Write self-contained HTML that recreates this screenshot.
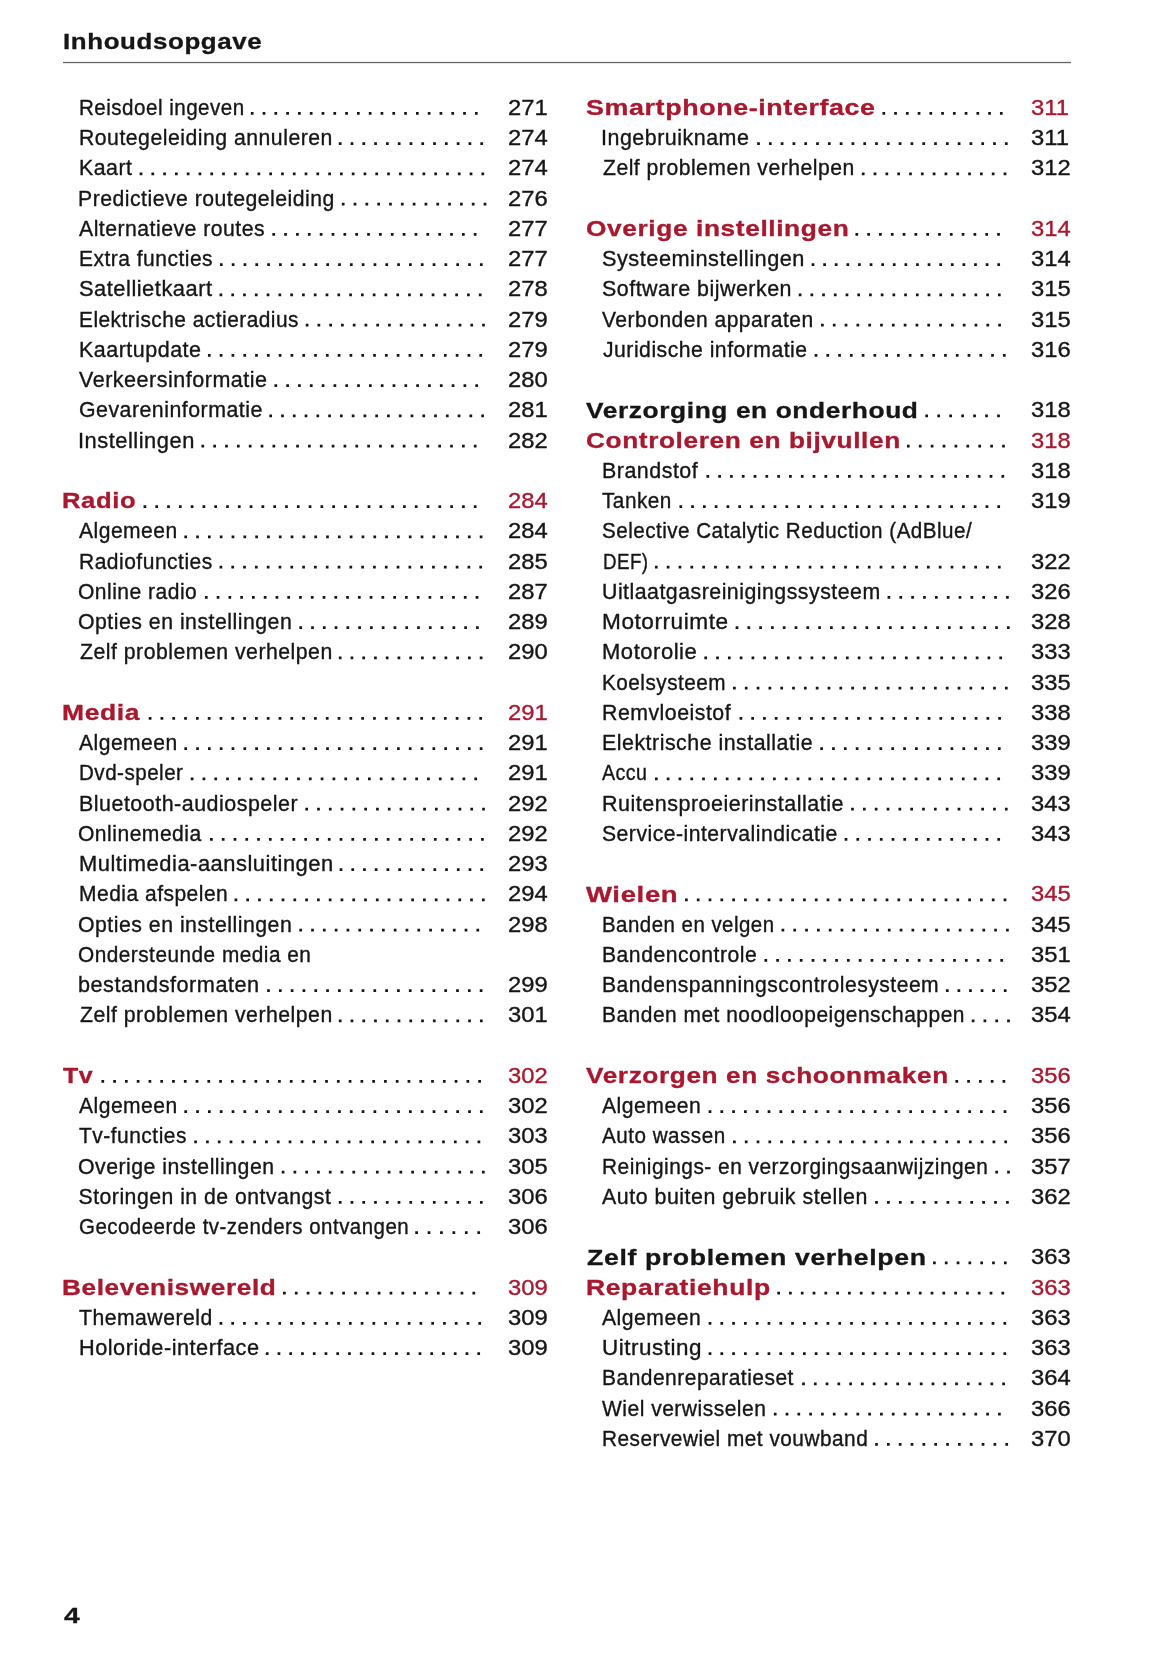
<!DOCTYPE html>
<html><head><meta charset="utf-8"><title>Inhoudsopgave</title>
<style>
html,body{margin:0;padding:0;background:#fff;}
body{width:1165px;height:1653px;position:relative;overflow:hidden;font-family:"Liberation Sans",sans-serif;color:#161616;}
.t{position:absolute;white-space:nowrap;line-height:0;transform-origin:0 0;-webkit-text-stroke:0.35px currentColor;}
.t.bd{-webkit-text-stroke:0.3px currentColor;}
.rule{position:absolute;left:63px;top:62px;width:1008px;height:1px;background:#666;box-shadow:0 -1px 0 #ececec,0 1px 0 #e4e4e4;}
#w{position:absolute;left:0;top:0;width:1165px;height:1653px;mix-blend-mode:multiply;}
</style></head><body><div id="w">
<div class="rule"></div>
<svg width="1165" height="1653" style="position:absolute;left:0;top:0"><path fill="#161616" d="M250.85 112.05h2.7v2.7h-2.7zM262.64 112.05h2.7v2.7h-2.7zM274.44 112.05h2.7v2.7h-2.7zM286.23 112.05h2.7v2.7h-2.7zM298.03 112.05h2.7v2.7h-2.7zM309.82 112.05h2.7v2.7h-2.7zM321.62 112.05h2.7v2.7h-2.7zM333.41 112.05h2.7v2.7h-2.7zM345.21 112.05h2.7v2.7h-2.7zM357.00 112.05h2.7v2.7h-2.7zM368.80 112.05h2.7v2.7h-2.7zM380.59 112.05h2.7v2.7h-2.7zM392.39 112.05h2.7v2.7h-2.7zM404.18 112.05h2.7v2.7h-2.7zM415.98 112.05h2.7v2.7h-2.7zM427.77 112.05h2.7v2.7h-2.7zM439.57 112.05h2.7v2.7h-2.7zM451.36 112.05h2.7v2.7h-2.7zM463.16 112.05h2.7v2.7h-2.7zM474.95 112.05h2.7v2.7h-2.7zM338.85 142.30h2.7v2.7h-2.7zM350.64 142.30h2.7v2.7h-2.7zM362.43 142.30h2.7v2.7h-2.7zM374.22 142.30h2.7v2.7h-2.7zM386.02 142.30h2.7v2.7h-2.7zM397.81 142.30h2.7v2.7h-2.7zM409.60 142.30h2.7v2.7h-2.7zM421.39 142.30h2.7v2.7h-2.7zM433.18 142.30h2.7v2.7h-2.7zM444.97 142.30h2.7v2.7h-2.7zM456.77 142.30h2.7v2.7h-2.7zM468.56 142.30h2.7v2.7h-2.7zM480.35 142.30h2.7v2.7h-2.7zM139.65 172.55h2.7v2.7h-2.7zM151.44 172.55h2.7v2.7h-2.7zM163.22 172.55h2.7v2.7h-2.7zM175.01 172.55h2.7v2.7h-2.7zM186.79 172.55h2.7v2.7h-2.7zM198.58 172.55h2.7v2.7h-2.7zM210.37 172.55h2.7v2.7h-2.7zM222.15 172.55h2.7v2.7h-2.7zM233.94 172.55h2.7v2.7h-2.7zM245.73 172.55h2.7v2.7h-2.7zM257.51 172.55h2.7v2.7h-2.7zM269.30 172.55h2.7v2.7h-2.7zM281.08 172.55h2.7v2.7h-2.7zM292.87 172.55h2.7v2.7h-2.7zM304.66 172.55h2.7v2.7h-2.7zM316.44 172.55h2.7v2.7h-2.7zM328.23 172.55h2.7v2.7h-2.7zM340.02 172.55h2.7v2.7h-2.7zM351.80 172.55h2.7v2.7h-2.7zM363.59 172.55h2.7v2.7h-2.7zM375.37 172.55h2.7v2.7h-2.7zM387.16 172.55h2.7v2.7h-2.7zM398.95 172.55h2.7v2.7h-2.7zM410.73 172.55h2.7v2.7h-2.7zM422.52 172.55h2.7v2.7h-2.7zM434.31 172.55h2.7v2.7h-2.7zM446.09 172.55h2.7v2.7h-2.7zM457.88 172.55h2.7v2.7h-2.7zM469.66 172.55h2.7v2.7h-2.7zM481.45 172.55h2.7v2.7h-2.7zM341.85 202.80h2.7v2.7h-2.7zM353.67 202.80h2.7v2.7h-2.7zM365.48 202.80h2.7v2.7h-2.7zM377.30 202.80h2.7v2.7h-2.7zM389.12 202.80h2.7v2.7h-2.7zM400.93 202.80h2.7v2.7h-2.7zM412.75 202.80h2.7v2.7h-2.7zM424.57 202.80h2.7v2.7h-2.7zM436.38 202.80h2.7v2.7h-2.7zM448.20 202.80h2.7v2.7h-2.7zM460.02 202.80h2.7v2.7h-2.7zM471.83 202.80h2.7v2.7h-2.7zM483.65 202.80h2.7v2.7h-2.7zM272.35 233.05h2.7v2.7h-2.7zM284.20 233.05h2.7v2.7h-2.7zM296.06 233.05h2.7v2.7h-2.7zM307.91 233.05h2.7v2.7h-2.7zM319.76 233.05h2.7v2.7h-2.7zM331.61 233.05h2.7v2.7h-2.7zM343.47 233.05h2.7v2.7h-2.7zM355.32 233.05h2.7v2.7h-2.7zM367.17 233.05h2.7v2.7h-2.7zM379.03 233.05h2.7v2.7h-2.7zM390.88 233.05h2.7v2.7h-2.7zM402.73 233.05h2.7v2.7h-2.7zM414.59 233.05h2.7v2.7h-2.7zM426.44 233.05h2.7v2.7h-2.7zM438.29 233.05h2.7v2.7h-2.7zM450.14 233.05h2.7v2.7h-2.7zM462.00 233.05h2.7v2.7h-2.7zM473.85 233.05h2.7v2.7h-2.7zM219.95 263.30h2.7v2.7h-2.7zM231.77 263.30h2.7v2.7h-2.7zM243.59 263.30h2.7v2.7h-2.7zM255.40 263.30h2.7v2.7h-2.7zM267.22 263.30h2.7v2.7h-2.7zM279.04 263.30h2.7v2.7h-2.7zM290.86 263.30h2.7v2.7h-2.7zM302.68 263.30h2.7v2.7h-2.7zM314.50 263.30h2.7v2.7h-2.7zM326.31 263.30h2.7v2.7h-2.7zM338.13 263.30h2.7v2.7h-2.7zM349.95 263.30h2.7v2.7h-2.7zM361.77 263.30h2.7v2.7h-2.7zM373.59 263.30h2.7v2.7h-2.7zM385.40 263.30h2.7v2.7h-2.7zM397.22 263.30h2.7v2.7h-2.7zM409.04 263.30h2.7v2.7h-2.7zM420.86 263.30h2.7v2.7h-2.7zM432.68 263.30h2.7v2.7h-2.7zM444.50 263.30h2.7v2.7h-2.7zM456.31 263.30h2.7v2.7h-2.7zM468.13 263.30h2.7v2.7h-2.7zM479.95 263.30h2.7v2.7h-2.7zM219.55 293.55h2.7v2.7h-2.7zM231.34 293.55h2.7v2.7h-2.7zM243.12 293.55h2.7v2.7h-2.7zM254.91 293.55h2.7v2.7h-2.7zM266.70 293.55h2.7v2.7h-2.7zM278.48 293.55h2.7v2.7h-2.7zM290.27 293.55h2.7v2.7h-2.7zM302.05 293.55h2.7v2.7h-2.7zM313.84 293.55h2.7v2.7h-2.7zM325.63 293.55h2.7v2.7h-2.7zM337.41 293.55h2.7v2.7h-2.7zM349.20 293.55h2.7v2.7h-2.7zM360.99 293.55h2.7v2.7h-2.7zM372.77 293.55h2.7v2.7h-2.7zM384.56 293.55h2.7v2.7h-2.7zM396.35 293.55h2.7v2.7h-2.7zM408.13 293.55h2.7v2.7h-2.7zM419.92 293.55h2.7v2.7h-2.7zM431.70 293.55h2.7v2.7h-2.7zM443.49 293.55h2.7v2.7h-2.7zM455.28 293.55h2.7v2.7h-2.7zM467.06 293.55h2.7v2.7h-2.7zM478.85 293.55h2.7v2.7h-2.7zM305.75 323.80h2.7v2.7h-2.7zM317.51 323.80h2.7v2.7h-2.7zM329.27 323.80h2.7v2.7h-2.7zM341.03 323.80h2.7v2.7h-2.7zM352.79 323.80h2.7v2.7h-2.7zM364.55 323.80h2.7v2.7h-2.7zM376.31 323.80h2.7v2.7h-2.7zM388.07 323.80h2.7v2.7h-2.7zM399.83 323.80h2.7v2.7h-2.7zM411.59 323.80h2.7v2.7h-2.7zM423.35 323.80h2.7v2.7h-2.7zM435.11 323.80h2.7v2.7h-2.7zM446.87 323.80h2.7v2.7h-2.7zM458.63 323.80h2.7v2.7h-2.7zM470.39 323.80h2.7v2.7h-2.7zM482.15 323.80h2.7v2.7h-2.7zM207.95 354.05h2.7v2.7h-2.7zM219.75 354.05h2.7v2.7h-2.7zM231.55 354.05h2.7v2.7h-2.7zM243.35 354.05h2.7v2.7h-2.7zM255.15 354.05h2.7v2.7h-2.7zM266.95 354.05h2.7v2.7h-2.7zM278.75 354.05h2.7v2.7h-2.7zM290.55 354.05h2.7v2.7h-2.7zM302.35 354.05h2.7v2.7h-2.7zM314.15 354.05h2.7v2.7h-2.7zM325.95 354.05h2.7v2.7h-2.7zM337.75 354.05h2.7v2.7h-2.7zM349.55 354.05h2.7v2.7h-2.7zM361.35 354.05h2.7v2.7h-2.7zM373.15 354.05h2.7v2.7h-2.7zM384.95 354.05h2.7v2.7h-2.7zM396.75 354.05h2.7v2.7h-2.7zM408.55 354.05h2.7v2.7h-2.7zM420.35 354.05h2.7v2.7h-2.7zM432.15 354.05h2.7v2.7h-2.7zM443.95 354.05h2.7v2.7h-2.7zM455.75 354.05h2.7v2.7h-2.7zM467.55 354.05h2.7v2.7h-2.7zM479.35 354.05h2.7v2.7h-2.7zM274.45 384.30h2.7v2.7h-2.7zM286.27 384.30h2.7v2.7h-2.7zM298.09 384.30h2.7v2.7h-2.7zM309.90 384.30h2.7v2.7h-2.7zM321.72 384.30h2.7v2.7h-2.7zM333.54 384.30h2.7v2.7h-2.7zM345.36 384.30h2.7v2.7h-2.7zM357.17 384.30h2.7v2.7h-2.7zM368.99 384.30h2.7v2.7h-2.7zM380.81 384.30h2.7v2.7h-2.7zM392.63 384.30h2.7v2.7h-2.7zM404.44 384.30h2.7v2.7h-2.7zM416.26 384.30h2.7v2.7h-2.7zM428.08 384.30h2.7v2.7h-2.7zM439.90 384.30h2.7v2.7h-2.7zM451.71 384.30h2.7v2.7h-2.7zM463.53 384.30h2.7v2.7h-2.7zM475.35 384.30h2.7v2.7h-2.7zM269.35 414.55h2.7v2.7h-2.7zM281.12 414.55h2.7v2.7h-2.7zM292.89 414.55h2.7v2.7h-2.7zM304.67 414.55h2.7v2.7h-2.7zM316.44 414.55h2.7v2.7h-2.7zM328.21 414.55h2.7v2.7h-2.7zM339.98 414.55h2.7v2.7h-2.7zM351.76 414.55h2.7v2.7h-2.7zM363.53 414.55h2.7v2.7h-2.7zM375.30 414.55h2.7v2.7h-2.7zM387.07 414.55h2.7v2.7h-2.7zM398.84 414.55h2.7v2.7h-2.7zM410.62 414.55h2.7v2.7h-2.7zM422.39 414.55h2.7v2.7h-2.7zM434.16 414.55h2.7v2.7h-2.7zM445.93 414.55h2.7v2.7h-2.7zM457.71 414.55h2.7v2.7h-2.7zM469.48 414.55h2.7v2.7h-2.7zM481.25 414.55h2.7v2.7h-2.7zM201.45 444.80h2.7v2.7h-2.7zM213.29 444.80h2.7v2.7h-2.7zM225.14 444.80h2.7v2.7h-2.7zM236.98 444.80h2.7v2.7h-2.7zM248.82 444.80h2.7v2.7h-2.7zM260.67 444.80h2.7v2.7h-2.7zM272.51 444.80h2.7v2.7h-2.7zM284.35 444.80h2.7v2.7h-2.7zM296.20 444.80h2.7v2.7h-2.7zM308.04 444.80h2.7v2.7h-2.7zM319.88 444.80h2.7v2.7h-2.7zM331.73 444.80h2.7v2.7h-2.7zM343.57 444.80h2.7v2.7h-2.7zM355.42 444.80h2.7v2.7h-2.7zM367.26 444.80h2.7v2.7h-2.7zM379.10 444.80h2.7v2.7h-2.7zM390.95 444.80h2.7v2.7h-2.7zM402.79 444.80h2.7v2.7h-2.7zM414.63 444.80h2.7v2.7h-2.7zM426.48 444.80h2.7v2.7h-2.7zM438.32 444.80h2.7v2.7h-2.7zM450.16 444.80h2.7v2.7h-2.7zM462.01 444.80h2.7v2.7h-2.7zM473.85 444.80h2.7v2.7h-2.7zM143.55 505.30h2.7v2.7h-2.7zM155.35 505.30h2.7v2.7h-2.7zM167.14 505.30h2.7v2.7h-2.7zM178.94 505.30h2.7v2.7h-2.7zM190.74 505.30h2.7v2.7h-2.7zM202.53 505.30h2.7v2.7h-2.7zM214.33 505.30h2.7v2.7h-2.7zM226.12 505.30h2.7v2.7h-2.7zM237.92 505.30h2.7v2.7h-2.7zM249.72 505.30h2.7v2.7h-2.7zM261.51 505.30h2.7v2.7h-2.7zM273.31 505.30h2.7v2.7h-2.7zM285.11 505.30h2.7v2.7h-2.7zM296.90 505.30h2.7v2.7h-2.7zM308.70 505.30h2.7v2.7h-2.7zM320.50 505.30h2.7v2.7h-2.7zM332.29 505.30h2.7v2.7h-2.7zM344.09 505.30h2.7v2.7h-2.7zM355.89 505.30h2.7v2.7h-2.7zM367.68 505.30h2.7v2.7h-2.7zM379.48 505.30h2.7v2.7h-2.7zM391.27 505.30h2.7v2.7h-2.7zM403.07 505.30h2.7v2.7h-2.7zM414.87 505.30h2.7v2.7h-2.7zM426.66 505.30h2.7v2.7h-2.7zM438.46 505.30h2.7v2.7h-2.7zM450.26 505.30h2.7v2.7h-2.7zM462.05 505.30h2.7v2.7h-2.7zM473.85 505.30h2.7v2.7h-2.7zM184.35 535.55h2.7v2.7h-2.7zM196.17 535.55h2.7v2.7h-2.7zM207.98 535.55h2.7v2.7h-2.7zM219.80 535.55h2.7v2.7h-2.7zM231.61 535.55h2.7v2.7h-2.7zM243.43 535.55h2.7v2.7h-2.7zM255.25 535.55h2.7v2.7h-2.7zM267.06 535.55h2.7v2.7h-2.7zM278.88 535.55h2.7v2.7h-2.7zM290.69 535.55h2.7v2.7h-2.7zM302.51 535.55h2.7v2.7h-2.7zM314.33 535.55h2.7v2.7h-2.7zM326.14 535.55h2.7v2.7h-2.7zM337.96 535.55h2.7v2.7h-2.7zM349.77 535.55h2.7v2.7h-2.7zM361.59 535.55h2.7v2.7h-2.7zM373.41 535.55h2.7v2.7h-2.7zM385.22 535.55h2.7v2.7h-2.7zM397.04 535.55h2.7v2.7h-2.7zM408.85 535.55h2.7v2.7h-2.7zM420.67 535.55h2.7v2.7h-2.7zM432.49 535.55h2.7v2.7h-2.7zM444.30 535.55h2.7v2.7h-2.7zM456.12 535.55h2.7v2.7h-2.7zM467.93 535.55h2.7v2.7h-2.7zM479.75 535.55h2.7v2.7h-2.7zM219.55 565.80h2.7v2.7h-2.7zM231.36 565.80h2.7v2.7h-2.7zM243.17 565.80h2.7v2.7h-2.7zM254.98 565.80h2.7v2.7h-2.7zM266.79 565.80h2.7v2.7h-2.7zM278.60 565.80h2.7v2.7h-2.7zM290.40 565.80h2.7v2.7h-2.7zM302.21 565.80h2.7v2.7h-2.7zM314.02 565.80h2.7v2.7h-2.7zM325.83 565.80h2.7v2.7h-2.7zM337.64 565.80h2.7v2.7h-2.7zM349.45 565.80h2.7v2.7h-2.7zM361.26 565.80h2.7v2.7h-2.7zM373.07 565.80h2.7v2.7h-2.7zM384.88 565.80h2.7v2.7h-2.7zM396.69 565.80h2.7v2.7h-2.7zM408.50 565.80h2.7v2.7h-2.7zM420.30 565.80h2.7v2.7h-2.7zM432.11 565.80h2.7v2.7h-2.7zM443.92 565.80h2.7v2.7h-2.7zM455.73 565.80h2.7v2.7h-2.7zM467.54 565.80h2.7v2.7h-2.7zM479.35 565.80h2.7v2.7h-2.7zM204.95 596.05h2.7v2.7h-2.7zM216.72 596.05h2.7v2.7h-2.7zM228.49 596.05h2.7v2.7h-2.7zM240.26 596.05h2.7v2.7h-2.7zM252.03 596.05h2.7v2.7h-2.7zM263.80 596.05h2.7v2.7h-2.7zM275.57 596.05h2.7v2.7h-2.7zM287.34 596.05h2.7v2.7h-2.7zM299.11 596.05h2.7v2.7h-2.7zM310.88 596.05h2.7v2.7h-2.7zM322.65 596.05h2.7v2.7h-2.7zM334.42 596.05h2.7v2.7h-2.7zM346.18 596.05h2.7v2.7h-2.7zM357.95 596.05h2.7v2.7h-2.7zM369.72 596.05h2.7v2.7h-2.7zM381.49 596.05h2.7v2.7h-2.7zM393.26 596.05h2.7v2.7h-2.7zM405.03 596.05h2.7v2.7h-2.7zM416.80 596.05h2.7v2.7h-2.7zM428.57 596.05h2.7v2.7h-2.7zM440.34 596.05h2.7v2.7h-2.7zM452.11 596.05h2.7v2.7h-2.7zM463.88 596.05h2.7v2.7h-2.7zM475.65 596.05h2.7v2.7h-2.7zM299.35 626.30h2.7v2.7h-2.7zM311.13 626.30h2.7v2.7h-2.7zM322.91 626.30h2.7v2.7h-2.7zM334.69 626.30h2.7v2.7h-2.7zM346.47 626.30h2.7v2.7h-2.7zM358.25 626.30h2.7v2.7h-2.7zM370.03 626.30h2.7v2.7h-2.7zM381.81 626.30h2.7v2.7h-2.7zM393.59 626.30h2.7v2.7h-2.7zM405.37 626.30h2.7v2.7h-2.7zM417.15 626.30h2.7v2.7h-2.7zM428.93 626.30h2.7v2.7h-2.7zM440.71 626.30h2.7v2.7h-2.7zM452.49 626.30h2.7v2.7h-2.7zM464.27 626.30h2.7v2.7h-2.7zM476.05 626.30h2.7v2.7h-2.7zM338.85 656.55h2.7v2.7h-2.7zM350.59 656.55h2.7v2.7h-2.7zM362.33 656.55h2.7v2.7h-2.7zM374.07 656.55h2.7v2.7h-2.7zM385.82 656.55h2.7v2.7h-2.7zM397.56 656.55h2.7v2.7h-2.7zM409.30 656.55h2.7v2.7h-2.7zM421.04 656.55h2.7v2.7h-2.7zM432.78 656.55h2.7v2.7h-2.7zM444.52 656.55h2.7v2.7h-2.7zM456.27 656.55h2.7v2.7h-2.7zM468.01 656.55h2.7v2.7h-2.7zM479.75 656.55h2.7v2.7h-2.7zM148.75 717.05h2.7v2.7h-2.7zM160.56 717.05h2.7v2.7h-2.7zM172.36 717.05h2.7v2.7h-2.7zM184.17 717.05h2.7v2.7h-2.7zM195.98 717.05h2.7v2.7h-2.7zM207.79 717.05h2.7v2.7h-2.7zM219.59 717.05h2.7v2.7h-2.7zM231.40 717.05h2.7v2.7h-2.7zM243.21 717.05h2.7v2.7h-2.7zM255.01 717.05h2.7v2.7h-2.7zM266.82 717.05h2.7v2.7h-2.7zM278.63 717.05h2.7v2.7h-2.7zM290.44 717.05h2.7v2.7h-2.7zM302.24 717.05h2.7v2.7h-2.7zM314.05 717.05h2.7v2.7h-2.7zM325.86 717.05h2.7v2.7h-2.7zM337.66 717.05h2.7v2.7h-2.7zM349.47 717.05h2.7v2.7h-2.7zM361.28 717.05h2.7v2.7h-2.7zM373.09 717.05h2.7v2.7h-2.7zM384.89 717.05h2.7v2.7h-2.7zM396.70 717.05h2.7v2.7h-2.7zM408.51 717.05h2.7v2.7h-2.7zM420.31 717.05h2.7v2.7h-2.7zM432.12 717.05h2.7v2.7h-2.7zM443.93 717.05h2.7v2.7h-2.7zM455.74 717.05h2.7v2.7h-2.7zM467.54 717.05h2.7v2.7h-2.7zM479.35 717.05h2.7v2.7h-2.7zM184.35 747.30h2.7v2.7h-2.7zM196.17 747.30h2.7v2.7h-2.7zM207.98 747.30h2.7v2.7h-2.7zM219.80 747.30h2.7v2.7h-2.7zM231.61 747.30h2.7v2.7h-2.7zM243.43 747.30h2.7v2.7h-2.7zM255.25 747.30h2.7v2.7h-2.7zM267.06 747.30h2.7v2.7h-2.7zM278.88 747.30h2.7v2.7h-2.7zM290.69 747.30h2.7v2.7h-2.7zM302.51 747.30h2.7v2.7h-2.7zM314.33 747.30h2.7v2.7h-2.7zM326.14 747.30h2.7v2.7h-2.7zM337.96 747.30h2.7v2.7h-2.7zM349.77 747.30h2.7v2.7h-2.7zM361.59 747.30h2.7v2.7h-2.7zM373.41 747.30h2.7v2.7h-2.7zM385.22 747.30h2.7v2.7h-2.7zM397.04 747.30h2.7v2.7h-2.7zM408.85 747.30h2.7v2.7h-2.7zM420.67 747.30h2.7v2.7h-2.7zM432.49 747.30h2.7v2.7h-2.7zM444.30 747.30h2.7v2.7h-2.7zM456.12 747.30h2.7v2.7h-2.7zM467.93 747.30h2.7v2.7h-2.7zM479.75 747.30h2.7v2.7h-2.7zM190.75 777.55h2.7v2.7h-2.7zM202.57 777.55h2.7v2.7h-2.7zM214.38 777.55h2.7v2.7h-2.7zM226.20 777.55h2.7v2.7h-2.7zM238.02 777.55h2.7v2.7h-2.7zM249.83 777.55h2.7v2.7h-2.7zM261.65 777.55h2.7v2.7h-2.7zM273.47 777.55h2.7v2.7h-2.7zM285.28 777.55h2.7v2.7h-2.7zM297.10 777.55h2.7v2.7h-2.7zM308.92 777.55h2.7v2.7h-2.7zM320.73 777.55h2.7v2.7h-2.7zM332.55 777.55h2.7v2.7h-2.7zM344.37 777.55h2.7v2.7h-2.7zM356.18 777.55h2.7v2.7h-2.7zM368.00 777.55h2.7v2.7h-2.7zM379.82 777.55h2.7v2.7h-2.7zM391.63 777.55h2.7v2.7h-2.7zM403.45 777.55h2.7v2.7h-2.7zM415.27 777.55h2.7v2.7h-2.7zM427.08 777.55h2.7v2.7h-2.7zM438.90 777.55h2.7v2.7h-2.7zM450.72 777.55h2.7v2.7h-2.7zM462.53 777.55h2.7v2.7h-2.7zM474.35 777.55h2.7v2.7h-2.7zM305.35 807.80h2.7v2.7h-2.7zM317.14 807.80h2.7v2.7h-2.7zM328.92 807.80h2.7v2.7h-2.7zM340.71 807.80h2.7v2.7h-2.7zM352.50 807.80h2.7v2.7h-2.7zM364.28 807.80h2.7v2.7h-2.7zM376.07 807.80h2.7v2.7h-2.7zM387.86 807.80h2.7v2.7h-2.7zM399.64 807.80h2.7v2.7h-2.7zM411.43 807.80h2.7v2.7h-2.7zM423.22 807.80h2.7v2.7h-2.7zM435.00 807.80h2.7v2.7h-2.7zM446.79 807.80h2.7v2.7h-2.7zM458.58 807.80h2.7v2.7h-2.7zM470.36 807.80h2.7v2.7h-2.7zM482.15 807.80h2.7v2.7h-2.7zM210.05 838.05h2.7v2.7h-2.7zM221.83 838.05h2.7v2.7h-2.7zM233.62 838.05h2.7v2.7h-2.7zM245.40 838.05h2.7v2.7h-2.7zM257.18 838.05h2.7v2.7h-2.7zM268.96 838.05h2.7v2.7h-2.7zM280.75 838.05h2.7v2.7h-2.7zM292.53 838.05h2.7v2.7h-2.7zM304.31 838.05h2.7v2.7h-2.7zM316.09 838.05h2.7v2.7h-2.7zM327.88 838.05h2.7v2.7h-2.7zM339.66 838.05h2.7v2.7h-2.7zM351.44 838.05h2.7v2.7h-2.7zM363.22 838.05h2.7v2.7h-2.7zM375.01 838.05h2.7v2.7h-2.7zM386.79 838.05h2.7v2.7h-2.7zM398.57 838.05h2.7v2.7h-2.7zM410.35 838.05h2.7v2.7h-2.7zM422.14 838.05h2.7v2.7h-2.7zM433.92 838.05h2.7v2.7h-2.7zM445.70 838.05h2.7v2.7h-2.7zM457.48 838.05h2.7v2.7h-2.7zM469.27 838.05h2.7v2.7h-2.7zM481.05 838.05h2.7v2.7h-2.7zM339.65 868.30h2.7v2.7h-2.7zM351.38 868.30h2.7v2.7h-2.7zM363.10 868.30h2.7v2.7h-2.7zM374.82 868.30h2.7v2.7h-2.7zM386.55 868.30h2.7v2.7h-2.7zM398.27 868.30h2.7v2.7h-2.7zM410.00 868.30h2.7v2.7h-2.7zM421.72 868.30h2.7v2.7h-2.7zM433.45 868.30h2.7v2.7h-2.7zM445.17 868.30h2.7v2.7h-2.7zM456.90 868.30h2.7v2.7h-2.7zM468.62 868.30h2.7v2.7h-2.7zM480.35 868.30h2.7v2.7h-2.7zM234.55 898.55h2.7v2.7h-2.7zM246.33 898.55h2.7v2.7h-2.7zM258.11 898.55h2.7v2.7h-2.7zM269.89 898.55h2.7v2.7h-2.7zM281.67 898.55h2.7v2.7h-2.7zM293.45 898.55h2.7v2.7h-2.7zM305.24 898.55h2.7v2.7h-2.7zM317.02 898.55h2.7v2.7h-2.7zM328.80 898.55h2.7v2.7h-2.7zM340.58 898.55h2.7v2.7h-2.7zM352.36 898.55h2.7v2.7h-2.7zM364.14 898.55h2.7v2.7h-2.7zM375.92 898.55h2.7v2.7h-2.7zM387.70 898.55h2.7v2.7h-2.7zM399.48 898.55h2.7v2.7h-2.7zM411.26 898.55h2.7v2.7h-2.7zM423.05 898.55h2.7v2.7h-2.7zM434.83 898.55h2.7v2.7h-2.7zM446.61 898.55h2.7v2.7h-2.7zM458.39 898.55h2.7v2.7h-2.7zM470.17 898.55h2.7v2.7h-2.7zM481.95 898.55h2.7v2.7h-2.7zM299.35 928.80h2.7v2.7h-2.7zM311.16 928.80h2.7v2.7h-2.7zM322.96 928.80h2.7v2.7h-2.7zM334.77 928.80h2.7v2.7h-2.7zM346.58 928.80h2.7v2.7h-2.7zM358.38 928.80h2.7v2.7h-2.7zM370.19 928.80h2.7v2.7h-2.7zM382.00 928.80h2.7v2.7h-2.7zM393.80 928.80h2.7v2.7h-2.7zM405.61 928.80h2.7v2.7h-2.7zM417.42 928.80h2.7v2.7h-2.7zM429.22 928.80h2.7v2.7h-2.7zM441.03 928.80h2.7v2.7h-2.7zM452.84 928.80h2.7v2.7h-2.7zM464.64 928.80h2.7v2.7h-2.7zM476.45 928.80h2.7v2.7h-2.7zM267.15 989.30h2.7v2.7h-2.7zM278.96 989.30h2.7v2.7h-2.7zM290.77 989.30h2.7v2.7h-2.7zM302.58 989.30h2.7v2.7h-2.7zM314.39 989.30h2.7v2.7h-2.7zM326.21 989.30h2.7v2.7h-2.7zM338.02 989.30h2.7v2.7h-2.7zM349.83 989.30h2.7v2.7h-2.7zM361.64 989.30h2.7v2.7h-2.7zM373.45 989.30h2.7v2.7h-2.7zM385.26 989.30h2.7v2.7h-2.7zM397.07 989.30h2.7v2.7h-2.7zM408.88 989.30h2.7v2.7h-2.7zM420.69 989.30h2.7v2.7h-2.7zM432.51 989.30h2.7v2.7h-2.7zM444.32 989.30h2.7v2.7h-2.7zM456.13 989.30h2.7v2.7h-2.7zM467.94 989.30h2.7v2.7h-2.7zM479.75 989.30h2.7v2.7h-2.7zM338.85 1019.55h2.7v2.7h-2.7zM350.61 1019.55h2.7v2.7h-2.7zM362.37 1019.55h2.7v2.7h-2.7zM374.12 1019.55h2.7v2.7h-2.7zM385.88 1019.55h2.7v2.7h-2.7zM397.64 1019.55h2.7v2.7h-2.7zM409.40 1019.55h2.7v2.7h-2.7zM421.16 1019.55h2.7v2.7h-2.7zM432.92 1019.55h2.7v2.7h-2.7zM444.67 1019.55h2.7v2.7h-2.7zM456.43 1019.55h2.7v2.7h-2.7zM468.19 1019.55h2.7v2.7h-2.7zM479.95 1019.55h2.7v2.7h-2.7zM101.45 1080.05h2.7v2.7h-2.7zM113.23 1080.05h2.7v2.7h-2.7zM125.00 1080.05h2.7v2.7h-2.7zM136.78 1080.05h2.7v2.7h-2.7zM148.55 1080.05h2.7v2.7h-2.7zM160.33 1080.05h2.7v2.7h-2.7zM172.10 1080.05h2.7v2.7h-2.7zM183.88 1080.05h2.7v2.7h-2.7zM195.65 1080.05h2.7v2.7h-2.7zM207.43 1080.05h2.7v2.7h-2.7zM219.20 1080.05h2.7v2.7h-2.7zM230.97 1080.05h2.7v2.7h-2.7zM242.75 1080.05h2.7v2.7h-2.7zM254.53 1080.05h2.7v2.7h-2.7zM266.30 1080.05h2.7v2.7h-2.7zM278.07 1080.05h2.7v2.7h-2.7zM289.85 1080.05h2.7v2.7h-2.7zM301.62 1080.05h2.7v2.7h-2.7zM313.40 1080.05h2.7v2.7h-2.7zM325.17 1080.05h2.7v2.7h-2.7zM336.95 1080.05h2.7v2.7h-2.7zM348.72 1080.05h2.7v2.7h-2.7zM360.50 1080.05h2.7v2.7h-2.7zM372.27 1080.05h2.7v2.7h-2.7zM384.05 1080.05h2.7v2.7h-2.7zM395.82 1080.05h2.7v2.7h-2.7zM407.60 1080.05h2.7v2.7h-2.7zM419.38 1080.05h2.7v2.7h-2.7zM431.15 1080.05h2.7v2.7h-2.7zM442.93 1080.05h2.7v2.7h-2.7zM454.70 1080.05h2.7v2.7h-2.7zM466.48 1080.05h2.7v2.7h-2.7zM478.25 1080.05h2.7v2.7h-2.7zM184.35 1110.30h2.7v2.7h-2.7zM196.17 1110.30h2.7v2.7h-2.7zM208.00 1110.30h2.7v2.7h-2.7zM219.82 1110.30h2.7v2.7h-2.7zM231.65 1110.30h2.7v2.7h-2.7zM243.47 1110.30h2.7v2.7h-2.7zM255.29 1110.30h2.7v2.7h-2.7zM267.12 1110.30h2.7v2.7h-2.7zM278.94 1110.30h2.7v2.7h-2.7zM290.77 1110.30h2.7v2.7h-2.7zM302.59 1110.30h2.7v2.7h-2.7zM314.41 1110.30h2.7v2.7h-2.7zM326.24 1110.30h2.7v2.7h-2.7zM338.06 1110.30h2.7v2.7h-2.7zM349.89 1110.30h2.7v2.7h-2.7zM361.71 1110.30h2.7v2.7h-2.7zM373.53 1110.30h2.7v2.7h-2.7zM385.36 1110.30h2.7v2.7h-2.7zM397.18 1110.30h2.7v2.7h-2.7zM409.01 1110.30h2.7v2.7h-2.7zM420.83 1110.30h2.7v2.7h-2.7zM432.65 1110.30h2.7v2.7h-2.7zM444.48 1110.30h2.7v2.7h-2.7zM456.30 1110.30h2.7v2.7h-2.7zM468.13 1110.30h2.7v2.7h-2.7zM479.95 1110.30h2.7v2.7h-2.7zM194.25 1140.55h2.7v2.7h-2.7zM206.05 1140.55h2.7v2.7h-2.7zM217.86 1140.55h2.7v2.7h-2.7zM229.66 1140.55h2.7v2.7h-2.7zM241.47 1140.55h2.7v2.7h-2.7zM253.27 1140.55h2.7v2.7h-2.7zM265.07 1140.55h2.7v2.7h-2.7zM276.88 1140.55h2.7v2.7h-2.7zM288.68 1140.55h2.7v2.7h-2.7zM300.49 1140.55h2.7v2.7h-2.7zM312.29 1140.55h2.7v2.7h-2.7zM324.10 1140.55h2.7v2.7h-2.7zM335.90 1140.55h2.7v2.7h-2.7zM347.70 1140.55h2.7v2.7h-2.7zM359.51 1140.55h2.7v2.7h-2.7zM371.31 1140.55h2.7v2.7h-2.7zM383.12 1140.55h2.7v2.7h-2.7zM394.92 1140.55h2.7v2.7h-2.7zM406.72 1140.55h2.7v2.7h-2.7zM418.53 1140.55h2.7v2.7h-2.7zM430.33 1140.55h2.7v2.7h-2.7zM442.14 1140.55h2.7v2.7h-2.7zM453.94 1140.55h2.7v2.7h-2.7zM465.75 1140.55h2.7v2.7h-2.7zM477.55 1140.55h2.7v2.7h-2.7zM281.75 1170.80h2.7v2.7h-2.7zM293.53 1170.80h2.7v2.7h-2.7zM305.30 1170.80h2.7v2.7h-2.7zM317.08 1170.80h2.7v2.7h-2.7zM328.86 1170.80h2.7v2.7h-2.7zM340.63 1170.80h2.7v2.7h-2.7zM352.41 1170.80h2.7v2.7h-2.7zM364.19 1170.80h2.7v2.7h-2.7zM375.96 1170.80h2.7v2.7h-2.7zM387.74 1170.80h2.7v2.7h-2.7zM399.51 1170.80h2.7v2.7h-2.7zM411.29 1170.80h2.7v2.7h-2.7zM423.07 1170.80h2.7v2.7h-2.7zM434.84 1170.80h2.7v2.7h-2.7zM446.62 1170.80h2.7v2.7h-2.7zM458.40 1170.80h2.7v2.7h-2.7zM470.17 1170.80h2.7v2.7h-2.7zM481.95 1170.80h2.7v2.7h-2.7zM338.85 1201.05h2.7v2.7h-2.7zM350.61 1201.05h2.7v2.7h-2.7zM362.37 1201.05h2.7v2.7h-2.7zM374.12 1201.05h2.7v2.7h-2.7zM385.88 1201.05h2.7v2.7h-2.7zM397.64 1201.05h2.7v2.7h-2.7zM409.40 1201.05h2.7v2.7h-2.7zM421.16 1201.05h2.7v2.7h-2.7zM432.92 1201.05h2.7v2.7h-2.7zM444.67 1201.05h2.7v2.7h-2.7zM456.43 1201.05h2.7v2.7h-2.7zM468.19 1201.05h2.7v2.7h-2.7zM479.95 1201.05h2.7v2.7h-2.7zM415.25 1231.30h2.7v2.7h-2.7zM427.67 1231.30h2.7v2.7h-2.7zM440.09 1231.30h2.7v2.7h-2.7zM452.51 1231.30h2.7v2.7h-2.7zM464.93 1231.30h2.7v2.7h-2.7zM477.35 1231.30h2.7v2.7h-2.7zM283.05 1291.80h2.7v2.7h-2.7zM294.89 1291.80h2.7v2.7h-2.7zM306.73 1291.80h2.7v2.7h-2.7zM318.56 1291.80h2.7v2.7h-2.7zM330.40 1291.80h2.7v2.7h-2.7zM342.24 1291.80h2.7v2.7h-2.7zM354.07 1291.80h2.7v2.7h-2.7zM365.91 1291.80h2.7v2.7h-2.7zM377.75 1291.80h2.7v2.7h-2.7zM389.59 1291.80h2.7v2.7h-2.7zM401.43 1291.80h2.7v2.7h-2.7zM413.26 1291.80h2.7v2.7h-2.7zM425.10 1291.80h2.7v2.7h-2.7zM436.94 1291.80h2.7v2.7h-2.7zM448.77 1291.80h2.7v2.7h-2.7zM460.61 1291.80h2.7v2.7h-2.7zM472.45 1291.80h2.7v2.7h-2.7zM219.55 1322.05h2.7v2.7h-2.7zM231.31 1322.05h2.7v2.7h-2.7zM243.08 1322.05h2.7v2.7h-2.7zM254.84 1322.05h2.7v2.7h-2.7zM266.60 1322.05h2.7v2.7h-2.7zM278.37 1322.05h2.7v2.7h-2.7zM290.13 1322.05h2.7v2.7h-2.7zM301.90 1322.05h2.7v2.7h-2.7zM313.66 1322.05h2.7v2.7h-2.7zM325.42 1322.05h2.7v2.7h-2.7zM337.19 1322.05h2.7v2.7h-2.7zM348.95 1322.05h2.7v2.7h-2.7zM360.71 1322.05h2.7v2.7h-2.7zM372.48 1322.05h2.7v2.7h-2.7zM384.24 1322.05h2.7v2.7h-2.7zM396.00 1322.05h2.7v2.7h-2.7zM407.77 1322.05h2.7v2.7h-2.7zM419.53 1322.05h2.7v2.7h-2.7zM431.30 1322.05h2.7v2.7h-2.7zM443.06 1322.05h2.7v2.7h-2.7zM454.82 1322.05h2.7v2.7h-2.7zM466.59 1322.05h2.7v2.7h-2.7zM478.35 1322.05h2.7v2.7h-2.7zM265.85 1352.30h2.7v2.7h-2.7zM277.60 1352.30h2.7v2.7h-2.7zM289.35 1352.30h2.7v2.7h-2.7zM301.10 1352.30h2.7v2.7h-2.7zM312.85 1352.30h2.7v2.7h-2.7zM324.60 1352.30h2.7v2.7h-2.7zM336.35 1352.30h2.7v2.7h-2.7zM348.10 1352.30h2.7v2.7h-2.7zM359.85 1352.30h2.7v2.7h-2.7zM371.60 1352.30h2.7v2.7h-2.7zM383.35 1352.30h2.7v2.7h-2.7zM395.10 1352.30h2.7v2.7h-2.7zM406.85 1352.30h2.7v2.7h-2.7zM418.60 1352.30h2.7v2.7h-2.7zM430.35 1352.30h2.7v2.7h-2.7zM442.10 1352.30h2.7v2.7h-2.7zM453.85 1352.30h2.7v2.7h-2.7zM465.60 1352.30h2.7v2.7h-2.7zM477.35 1352.30h2.7v2.7h-2.7zM882.45 112.05h2.7v2.7h-2.7zM894.20 112.05h2.7v2.7h-2.7zM905.95 112.05h2.7v2.7h-2.7zM917.70 112.05h2.7v2.7h-2.7zM929.45 112.05h2.7v2.7h-2.7zM941.20 112.05h2.7v2.7h-2.7zM952.95 112.05h2.7v2.7h-2.7zM964.70 112.05h2.7v2.7h-2.7zM976.45 112.05h2.7v2.7h-2.7zM988.20 112.05h2.7v2.7h-2.7zM999.95 112.05h2.7v2.7h-2.7zM757.15 142.30h2.7v2.7h-2.7zM768.95 142.30h2.7v2.7h-2.7zM780.75 142.30h2.7v2.7h-2.7zM792.55 142.30h2.7v2.7h-2.7zM804.35 142.30h2.7v2.7h-2.7zM816.15 142.30h2.7v2.7h-2.7zM827.95 142.30h2.7v2.7h-2.7zM839.75 142.30h2.7v2.7h-2.7zM851.55 142.30h2.7v2.7h-2.7zM863.35 142.30h2.7v2.7h-2.7zM875.15 142.30h2.7v2.7h-2.7zM886.95 142.30h2.7v2.7h-2.7zM898.75 142.30h2.7v2.7h-2.7zM910.55 142.30h2.7v2.7h-2.7zM922.35 142.30h2.7v2.7h-2.7zM934.15 142.30h2.7v2.7h-2.7zM945.95 142.30h2.7v2.7h-2.7zM957.75 142.30h2.7v2.7h-2.7zM969.55 142.30h2.7v2.7h-2.7zM981.35 142.30h2.7v2.7h-2.7zM993.15 142.30h2.7v2.7h-2.7zM1004.95 142.30h2.7v2.7h-2.7zM861.85 172.55h2.7v2.7h-2.7zM873.67 172.55h2.7v2.7h-2.7zM885.48 172.55h2.7v2.7h-2.7zM897.30 172.55h2.7v2.7h-2.7zM909.12 172.55h2.7v2.7h-2.7zM920.93 172.55h2.7v2.7h-2.7zM932.75 172.55h2.7v2.7h-2.7zM944.57 172.55h2.7v2.7h-2.7zM956.38 172.55h2.7v2.7h-2.7zM968.20 172.55h2.7v2.7h-2.7zM980.02 172.55h2.7v2.7h-2.7zM991.83 172.55h2.7v2.7h-2.7zM1003.65 172.55h2.7v2.7h-2.7zM855.45 233.05h2.7v2.7h-2.7zM867.26 233.05h2.7v2.7h-2.7zM879.07 233.05h2.7v2.7h-2.7zM890.87 233.05h2.7v2.7h-2.7zM902.68 233.05h2.7v2.7h-2.7zM914.49 233.05h2.7v2.7h-2.7zM926.30 233.05h2.7v2.7h-2.7zM938.11 233.05h2.7v2.7h-2.7zM949.92 233.05h2.7v2.7h-2.7zM961.73 233.05h2.7v2.7h-2.7zM973.53 233.05h2.7v2.7h-2.7zM985.34 233.05h2.7v2.7h-2.7zM997.15 233.05h2.7v2.7h-2.7zM811.65 263.30h2.7v2.7h-2.7zM823.26 263.30h2.7v2.7h-2.7zM834.86 263.30h2.7v2.7h-2.7zM846.47 263.30h2.7v2.7h-2.7zM858.07 263.30h2.7v2.7h-2.7zM869.68 263.30h2.7v2.7h-2.7zM881.29 263.30h2.7v2.7h-2.7zM892.89 263.30h2.7v2.7h-2.7zM904.50 263.30h2.7v2.7h-2.7zM916.11 263.30h2.7v2.7h-2.7zM927.71 263.30h2.7v2.7h-2.7zM939.32 263.30h2.7v2.7h-2.7zM950.93 263.30h2.7v2.7h-2.7zM962.53 263.30h2.7v2.7h-2.7zM974.14 263.30h2.7v2.7h-2.7zM985.74 263.30h2.7v2.7h-2.7zM997.35 263.30h2.7v2.7h-2.7zM798.75 293.55h2.7v2.7h-2.7zM810.47 293.55h2.7v2.7h-2.7zM822.19 293.55h2.7v2.7h-2.7zM833.90 293.55h2.7v2.7h-2.7zM845.62 293.55h2.7v2.7h-2.7zM857.34 293.55h2.7v2.7h-2.7zM869.06 293.55h2.7v2.7h-2.7zM880.77 293.55h2.7v2.7h-2.7zM892.49 293.55h2.7v2.7h-2.7zM904.21 293.55h2.7v2.7h-2.7zM915.93 293.55h2.7v2.7h-2.7zM927.64 293.55h2.7v2.7h-2.7zM939.36 293.55h2.7v2.7h-2.7zM951.08 293.55h2.7v2.7h-2.7zM962.80 293.55h2.7v2.7h-2.7zM974.51 293.55h2.7v2.7h-2.7zM986.23 293.55h2.7v2.7h-2.7zM997.95 293.55h2.7v2.7h-2.7zM821.05 323.80h2.7v2.7h-2.7zM832.86 323.80h2.7v2.7h-2.7zM844.68 323.80h2.7v2.7h-2.7zM856.49 323.80h2.7v2.7h-2.7zM868.30 323.80h2.7v2.7h-2.7zM880.12 323.80h2.7v2.7h-2.7zM891.93 323.80h2.7v2.7h-2.7zM903.74 323.80h2.7v2.7h-2.7zM915.56 323.80h2.7v2.7h-2.7zM927.37 323.80h2.7v2.7h-2.7zM939.18 323.80h2.7v2.7h-2.7zM951.00 323.80h2.7v2.7h-2.7zM962.81 323.80h2.7v2.7h-2.7zM974.62 323.80h2.7v2.7h-2.7zM986.44 323.80h2.7v2.7h-2.7zM998.25 323.80h2.7v2.7h-2.7zM814.65 354.05h2.7v2.7h-2.7zM826.42 354.05h2.7v2.7h-2.7zM838.19 354.05h2.7v2.7h-2.7zM849.96 354.05h2.7v2.7h-2.7zM861.73 354.05h2.7v2.7h-2.7zM873.49 354.05h2.7v2.7h-2.7zM885.26 354.05h2.7v2.7h-2.7zM897.03 354.05h2.7v2.7h-2.7zM908.80 354.05h2.7v2.7h-2.7zM920.57 354.05h2.7v2.7h-2.7zM932.34 354.05h2.7v2.7h-2.7zM944.11 354.05h2.7v2.7h-2.7zM955.87 354.05h2.7v2.7h-2.7zM967.64 354.05h2.7v2.7h-2.7zM979.41 354.05h2.7v2.7h-2.7zM991.18 354.05h2.7v2.7h-2.7zM1002.95 354.05h2.7v2.7h-2.7zM925.35 414.55h2.7v2.7h-2.7zM937.32 414.55h2.7v2.7h-2.7zM949.28 414.55h2.7v2.7h-2.7zM961.25 414.55h2.7v2.7h-2.7zM973.22 414.55h2.7v2.7h-2.7zM985.18 414.55h2.7v2.7h-2.7zM997.15 414.55h2.7v2.7h-2.7zM906.95 444.80h2.7v2.7h-2.7zM918.85 444.80h2.7v2.7h-2.7zM930.75 444.80h2.7v2.7h-2.7zM942.65 444.80h2.7v2.7h-2.7zM954.55 444.80h2.7v2.7h-2.7zM966.45 444.80h2.7v2.7h-2.7zM978.35 444.80h2.7v2.7h-2.7zM990.25 444.80h2.7v2.7h-2.7zM1002.15 444.80h2.7v2.7h-2.7zM706.45 475.05h2.7v2.7h-2.7zM718.25 475.05h2.7v2.7h-2.7zM730.05 475.05h2.7v2.7h-2.7zM741.85 475.05h2.7v2.7h-2.7zM753.65 475.05h2.7v2.7h-2.7zM765.45 475.05h2.7v2.7h-2.7zM777.25 475.05h2.7v2.7h-2.7zM789.05 475.05h2.7v2.7h-2.7zM800.85 475.05h2.7v2.7h-2.7zM812.65 475.05h2.7v2.7h-2.7zM824.45 475.05h2.7v2.7h-2.7zM836.25 475.05h2.7v2.7h-2.7zM848.05 475.05h2.7v2.7h-2.7zM859.85 475.05h2.7v2.7h-2.7zM871.65 475.05h2.7v2.7h-2.7zM883.45 475.05h2.7v2.7h-2.7zM895.25 475.05h2.7v2.7h-2.7zM907.05 475.05h2.7v2.7h-2.7zM918.85 475.05h2.7v2.7h-2.7zM930.65 475.05h2.7v2.7h-2.7zM942.45 475.05h2.7v2.7h-2.7zM954.25 475.05h2.7v2.7h-2.7zM966.05 475.05h2.7v2.7h-2.7zM977.85 475.05h2.7v2.7h-2.7zM989.65 475.05h2.7v2.7h-2.7zM1001.45 475.05h2.7v2.7h-2.7zM679.45 505.30h2.7v2.7h-2.7zM691.22 505.30h2.7v2.7h-2.7zM703.00 505.30h2.7v2.7h-2.7zM714.77 505.30h2.7v2.7h-2.7zM726.55 505.30h2.7v2.7h-2.7zM738.32 505.30h2.7v2.7h-2.7zM750.09 505.30h2.7v2.7h-2.7zM761.87 505.30h2.7v2.7h-2.7zM773.64 505.30h2.7v2.7h-2.7zM785.42 505.30h2.7v2.7h-2.7zM797.19 505.30h2.7v2.7h-2.7zM808.96 505.30h2.7v2.7h-2.7zM820.74 505.30h2.7v2.7h-2.7zM832.51 505.30h2.7v2.7h-2.7zM844.29 505.30h2.7v2.7h-2.7zM856.06 505.30h2.7v2.7h-2.7zM867.84 505.30h2.7v2.7h-2.7zM879.61 505.30h2.7v2.7h-2.7zM891.38 505.30h2.7v2.7h-2.7zM903.16 505.30h2.7v2.7h-2.7zM914.93 505.30h2.7v2.7h-2.7zM926.71 505.30h2.7v2.7h-2.7zM938.48 505.30h2.7v2.7h-2.7zM950.25 505.30h2.7v2.7h-2.7zM962.03 505.30h2.7v2.7h-2.7zM973.80 505.30h2.7v2.7h-2.7zM985.58 505.30h2.7v2.7h-2.7zM997.35 505.30h2.7v2.7h-2.7zM654.95 565.80h2.7v2.7h-2.7zM666.78 565.80h2.7v2.7h-2.7zM678.61 565.80h2.7v2.7h-2.7zM690.43 565.80h2.7v2.7h-2.7zM702.26 565.80h2.7v2.7h-2.7zM714.09 565.80h2.7v2.7h-2.7zM725.92 565.80h2.7v2.7h-2.7zM737.74 565.80h2.7v2.7h-2.7zM749.57 565.80h2.7v2.7h-2.7zM761.40 565.80h2.7v2.7h-2.7zM773.23 565.80h2.7v2.7h-2.7zM785.05 565.80h2.7v2.7h-2.7zM796.88 565.80h2.7v2.7h-2.7zM808.71 565.80h2.7v2.7h-2.7zM820.54 565.80h2.7v2.7h-2.7zM832.36 565.80h2.7v2.7h-2.7zM844.19 565.80h2.7v2.7h-2.7zM856.02 565.80h2.7v2.7h-2.7zM867.85 565.80h2.7v2.7h-2.7zM879.67 565.80h2.7v2.7h-2.7zM891.50 565.80h2.7v2.7h-2.7zM903.33 565.80h2.7v2.7h-2.7zM915.16 565.80h2.7v2.7h-2.7zM926.98 565.80h2.7v2.7h-2.7zM938.81 565.80h2.7v2.7h-2.7zM950.64 565.80h2.7v2.7h-2.7zM962.47 565.80h2.7v2.7h-2.7zM974.29 565.80h2.7v2.7h-2.7zM986.12 565.80h2.7v2.7h-2.7zM997.95 565.80h2.7v2.7h-2.7zM887.55 596.05h2.7v2.7h-2.7zM899.40 596.05h2.7v2.7h-2.7zM911.25 596.05h2.7v2.7h-2.7zM923.10 596.05h2.7v2.7h-2.7zM934.95 596.05h2.7v2.7h-2.7zM946.80 596.05h2.7v2.7h-2.7zM958.65 596.05h2.7v2.7h-2.7zM970.50 596.05h2.7v2.7h-2.7zM982.35 596.05h2.7v2.7h-2.7zM994.20 596.05h2.7v2.7h-2.7zM1006.05 596.05h2.7v2.7h-2.7zM735.65 626.30h2.7v2.7h-2.7zM747.45 626.30h2.7v2.7h-2.7zM759.24 626.30h2.7v2.7h-2.7zM771.04 626.30h2.7v2.7h-2.7zM782.83 626.30h2.7v2.7h-2.7zM794.63 626.30h2.7v2.7h-2.7zM806.42 626.30h2.7v2.7h-2.7zM818.22 626.30h2.7v2.7h-2.7zM830.02 626.30h2.7v2.7h-2.7zM841.81 626.30h2.7v2.7h-2.7zM853.61 626.30h2.7v2.7h-2.7zM865.40 626.30h2.7v2.7h-2.7zM877.20 626.30h2.7v2.7h-2.7zM888.99 626.30h2.7v2.7h-2.7zM900.79 626.30h2.7v2.7h-2.7zM912.58 626.30h2.7v2.7h-2.7zM924.38 626.30h2.7v2.7h-2.7zM936.18 626.30h2.7v2.7h-2.7zM947.97 626.30h2.7v2.7h-2.7zM959.77 626.30h2.7v2.7h-2.7zM971.56 626.30h2.7v2.7h-2.7zM983.36 626.30h2.7v2.7h-2.7zM995.15 626.30h2.7v2.7h-2.7zM1006.95 626.30h2.7v2.7h-2.7zM704.35 656.55h2.7v2.7h-2.7zM716.15 656.55h2.7v2.7h-2.7zM727.95 656.55h2.7v2.7h-2.7zM739.75 656.55h2.7v2.7h-2.7zM751.55 656.55h2.7v2.7h-2.7zM763.35 656.55h2.7v2.7h-2.7zM775.15 656.55h2.7v2.7h-2.7zM786.95 656.55h2.7v2.7h-2.7zM798.75 656.55h2.7v2.7h-2.7zM810.55 656.55h2.7v2.7h-2.7zM822.35 656.55h2.7v2.7h-2.7zM834.15 656.55h2.7v2.7h-2.7zM845.95 656.55h2.7v2.7h-2.7zM857.75 656.55h2.7v2.7h-2.7zM869.55 656.55h2.7v2.7h-2.7zM881.35 656.55h2.7v2.7h-2.7zM893.15 656.55h2.7v2.7h-2.7zM904.95 656.55h2.7v2.7h-2.7zM916.75 656.55h2.7v2.7h-2.7zM928.55 656.55h2.7v2.7h-2.7zM940.35 656.55h2.7v2.7h-2.7zM952.15 656.55h2.7v2.7h-2.7zM963.95 656.55h2.7v2.7h-2.7zM975.75 656.55h2.7v2.7h-2.7zM987.55 656.55h2.7v2.7h-2.7zM999.35 656.55h2.7v2.7h-2.7zM733.05 686.80h2.7v2.7h-2.7zM744.87 686.80h2.7v2.7h-2.7zM756.69 686.80h2.7v2.7h-2.7zM768.52 686.80h2.7v2.7h-2.7zM780.34 686.80h2.7v2.7h-2.7zM792.16 686.80h2.7v2.7h-2.7zM803.98 686.80h2.7v2.7h-2.7zM815.80 686.80h2.7v2.7h-2.7zM827.62 686.80h2.7v2.7h-2.7zM839.45 686.80h2.7v2.7h-2.7zM851.27 686.80h2.7v2.7h-2.7zM863.09 686.80h2.7v2.7h-2.7zM874.91 686.80h2.7v2.7h-2.7zM886.73 686.80h2.7v2.7h-2.7zM898.55 686.80h2.7v2.7h-2.7zM910.38 686.80h2.7v2.7h-2.7zM922.20 686.80h2.7v2.7h-2.7zM934.02 686.80h2.7v2.7h-2.7zM945.84 686.80h2.7v2.7h-2.7zM957.66 686.80h2.7v2.7h-2.7zM969.48 686.80h2.7v2.7h-2.7zM981.31 686.80h2.7v2.7h-2.7zM993.13 686.80h2.7v2.7h-2.7zM1004.95 686.80h2.7v2.7h-2.7zM739.55 717.05h2.7v2.7h-2.7zM751.31 717.05h2.7v2.7h-2.7zM763.07 717.05h2.7v2.7h-2.7zM774.83 717.05h2.7v2.7h-2.7zM786.59 717.05h2.7v2.7h-2.7zM798.35 717.05h2.7v2.7h-2.7zM810.10 717.05h2.7v2.7h-2.7zM821.86 717.05h2.7v2.7h-2.7zM833.62 717.05h2.7v2.7h-2.7zM845.38 717.05h2.7v2.7h-2.7zM857.14 717.05h2.7v2.7h-2.7zM868.90 717.05h2.7v2.7h-2.7zM880.66 717.05h2.7v2.7h-2.7zM892.42 717.05h2.7v2.7h-2.7zM904.18 717.05h2.7v2.7h-2.7zM915.94 717.05h2.7v2.7h-2.7zM927.70 717.05h2.7v2.7h-2.7zM939.45 717.05h2.7v2.7h-2.7zM951.21 717.05h2.7v2.7h-2.7zM962.97 717.05h2.7v2.7h-2.7zM974.73 717.05h2.7v2.7h-2.7zM986.49 717.05h2.7v2.7h-2.7zM998.25 717.05h2.7v2.7h-2.7zM820.25 747.30h2.7v2.7h-2.7zM832.10 747.30h2.7v2.7h-2.7zM843.94 747.30h2.7v2.7h-2.7zM855.79 747.30h2.7v2.7h-2.7zM867.64 747.30h2.7v2.7h-2.7zM879.48 747.30h2.7v2.7h-2.7zM891.33 747.30h2.7v2.7h-2.7zM903.18 747.30h2.7v2.7h-2.7zM915.02 747.30h2.7v2.7h-2.7zM926.87 747.30h2.7v2.7h-2.7zM938.72 747.30h2.7v2.7h-2.7zM950.56 747.30h2.7v2.7h-2.7zM962.41 747.30h2.7v2.7h-2.7zM974.26 747.30h2.7v2.7h-2.7zM986.10 747.30h2.7v2.7h-2.7zM997.95 747.30h2.7v2.7h-2.7zM654.95 777.55h2.7v2.7h-2.7zM666.76 777.55h2.7v2.7h-2.7zM678.56 777.55h2.7v2.7h-2.7zM690.37 777.55h2.7v2.7h-2.7zM702.18 777.55h2.7v2.7h-2.7zM713.98 777.55h2.7v2.7h-2.7zM725.79 777.55h2.7v2.7h-2.7zM737.60 777.55h2.7v2.7h-2.7zM749.41 777.55h2.7v2.7h-2.7zM761.21 777.55h2.7v2.7h-2.7zM773.02 777.55h2.7v2.7h-2.7zM784.83 777.55h2.7v2.7h-2.7zM796.63 777.55h2.7v2.7h-2.7zM808.44 777.55h2.7v2.7h-2.7zM820.25 777.55h2.7v2.7h-2.7zM832.05 777.55h2.7v2.7h-2.7zM843.86 777.55h2.7v2.7h-2.7zM855.67 777.55h2.7v2.7h-2.7zM867.47 777.55h2.7v2.7h-2.7zM879.28 777.55h2.7v2.7h-2.7zM891.09 777.55h2.7v2.7h-2.7zM902.89 777.55h2.7v2.7h-2.7zM914.70 777.55h2.7v2.7h-2.7zM926.51 777.55h2.7v2.7h-2.7zM938.32 777.55h2.7v2.7h-2.7zM950.12 777.55h2.7v2.7h-2.7zM961.93 777.55h2.7v2.7h-2.7zM973.74 777.55h2.7v2.7h-2.7zM985.54 777.55h2.7v2.7h-2.7zM997.35 777.55h2.7v2.7h-2.7zM851.15 807.80h2.7v2.7h-2.7zM862.98 807.80h2.7v2.7h-2.7zM874.81 807.80h2.7v2.7h-2.7zM886.64 807.80h2.7v2.7h-2.7zM898.47 807.80h2.7v2.7h-2.7zM910.30 807.80h2.7v2.7h-2.7zM922.13 807.80h2.7v2.7h-2.7zM933.97 807.80h2.7v2.7h-2.7zM945.80 807.80h2.7v2.7h-2.7zM957.63 807.80h2.7v2.7h-2.7zM969.46 807.80h2.7v2.7h-2.7zM981.29 807.80h2.7v2.7h-2.7zM993.12 807.80h2.7v2.7h-2.7zM1004.95 807.80h2.7v2.7h-2.7zM844.65 838.05h2.7v2.7h-2.7zM856.40 838.05h2.7v2.7h-2.7zM868.14 838.05h2.7v2.7h-2.7zM879.89 838.05h2.7v2.7h-2.7zM891.63 838.05h2.7v2.7h-2.7zM903.38 838.05h2.7v2.7h-2.7zM915.13 838.05h2.7v2.7h-2.7zM926.87 838.05h2.7v2.7h-2.7zM938.62 838.05h2.7v2.7h-2.7zM950.37 838.05h2.7v2.7h-2.7zM962.11 838.05h2.7v2.7h-2.7zM973.86 838.05h2.7v2.7h-2.7zM985.60 838.05h2.7v2.7h-2.7zM997.35 838.05h2.7v2.7h-2.7zM685.05 898.55h2.7v2.7h-2.7zM696.85 898.55h2.7v2.7h-2.7zM708.65 898.55h2.7v2.7h-2.7zM720.45 898.55h2.7v2.7h-2.7zM732.25 898.55h2.7v2.7h-2.7zM744.05 898.55h2.7v2.7h-2.7zM755.85 898.55h2.7v2.7h-2.7zM767.65 898.55h2.7v2.7h-2.7zM779.45 898.55h2.7v2.7h-2.7zM791.25 898.55h2.7v2.7h-2.7zM803.05 898.55h2.7v2.7h-2.7zM814.85 898.55h2.7v2.7h-2.7zM826.65 898.55h2.7v2.7h-2.7zM838.45 898.55h2.7v2.7h-2.7zM850.25 898.55h2.7v2.7h-2.7zM862.05 898.55h2.7v2.7h-2.7zM873.85 898.55h2.7v2.7h-2.7zM885.65 898.55h2.7v2.7h-2.7zM897.45 898.55h2.7v2.7h-2.7zM909.25 898.55h2.7v2.7h-2.7zM921.05 898.55h2.7v2.7h-2.7zM932.85 898.55h2.7v2.7h-2.7zM944.65 898.55h2.7v2.7h-2.7zM956.45 898.55h2.7v2.7h-2.7zM968.25 898.55h2.7v2.7h-2.7zM980.05 898.55h2.7v2.7h-2.7zM991.85 898.55h2.7v2.7h-2.7zM1003.65 898.55h2.7v2.7h-2.7zM781.55 928.80h2.7v2.7h-2.7zM793.37 928.80h2.7v2.7h-2.7zM805.18 928.80h2.7v2.7h-2.7zM817.00 928.80h2.7v2.7h-2.7zM828.81 928.80h2.7v2.7h-2.7zM840.63 928.80h2.7v2.7h-2.7zM852.44 928.80h2.7v2.7h-2.7zM864.26 928.80h2.7v2.7h-2.7zM876.08 928.80h2.7v2.7h-2.7zM887.89 928.80h2.7v2.7h-2.7zM899.71 928.80h2.7v2.7h-2.7zM911.52 928.80h2.7v2.7h-2.7zM923.34 928.80h2.7v2.7h-2.7zM935.16 928.80h2.7v2.7h-2.7zM946.97 928.80h2.7v2.7h-2.7zM958.79 928.80h2.7v2.7h-2.7zM970.60 928.80h2.7v2.7h-2.7zM982.42 928.80h2.7v2.7h-2.7zM994.23 928.80h2.7v2.7h-2.7zM1006.05 928.80h2.7v2.7h-2.7zM764.45 959.05h2.7v2.7h-2.7zM776.24 959.05h2.7v2.7h-2.7zM788.04 959.05h2.7v2.7h-2.7zM799.83 959.05h2.7v2.7h-2.7zM811.63 959.05h2.7v2.7h-2.7zM823.42 959.05h2.7v2.7h-2.7zM835.22 959.05h2.7v2.7h-2.7zM847.01 959.05h2.7v2.7h-2.7zM858.81 959.05h2.7v2.7h-2.7zM870.61 959.05h2.7v2.7h-2.7zM882.40 959.05h2.7v2.7h-2.7zM894.20 959.05h2.7v2.7h-2.7zM905.99 959.05h2.7v2.7h-2.7zM917.78 959.05h2.7v2.7h-2.7zM929.58 959.05h2.7v2.7h-2.7zM941.38 959.05h2.7v2.7h-2.7zM953.17 959.05h2.7v2.7h-2.7zM964.97 959.05h2.7v2.7h-2.7zM976.76 959.05h2.7v2.7h-2.7zM988.56 959.05h2.7v2.7h-2.7zM1000.35 959.05h2.7v2.7h-2.7zM945.95 989.30h2.7v2.7h-2.7zM957.53 989.30h2.7v2.7h-2.7zM969.11 989.30h2.7v2.7h-2.7zM980.69 989.30h2.7v2.7h-2.7zM992.27 989.30h2.7v2.7h-2.7zM1003.85 989.30h2.7v2.7h-2.7zM971.75 1019.55h2.7v2.7h-2.7zM983.55 1019.55h2.7v2.7h-2.7zM995.35 1019.55h2.7v2.7h-2.7zM1007.15 1019.55h2.7v2.7h-2.7zM955.45 1080.05h2.7v2.7h-2.7zM967.22 1080.05h2.7v2.7h-2.7zM979.00 1080.05h2.7v2.7h-2.7zM990.77 1080.05h2.7v2.7h-2.7zM1002.55 1080.05h2.7v2.7h-2.7zM708.65 1110.30h2.7v2.7h-2.7zM720.45 1110.30h2.7v2.7h-2.7zM732.25 1110.30h2.7v2.7h-2.7zM744.05 1110.30h2.7v2.7h-2.7zM755.85 1110.30h2.7v2.7h-2.7zM767.65 1110.30h2.7v2.7h-2.7zM779.45 1110.30h2.7v2.7h-2.7zM791.25 1110.30h2.7v2.7h-2.7zM803.05 1110.30h2.7v2.7h-2.7zM814.85 1110.30h2.7v2.7h-2.7zM826.65 1110.30h2.7v2.7h-2.7zM838.45 1110.30h2.7v2.7h-2.7zM850.25 1110.30h2.7v2.7h-2.7zM862.05 1110.30h2.7v2.7h-2.7zM873.85 1110.30h2.7v2.7h-2.7zM885.65 1110.30h2.7v2.7h-2.7zM897.45 1110.30h2.7v2.7h-2.7zM909.25 1110.30h2.7v2.7h-2.7zM921.05 1110.30h2.7v2.7h-2.7zM932.85 1110.30h2.7v2.7h-2.7zM944.65 1110.30h2.7v2.7h-2.7zM956.45 1110.30h2.7v2.7h-2.7zM968.25 1110.30h2.7v2.7h-2.7zM980.05 1110.30h2.7v2.7h-2.7zM991.85 1110.30h2.7v2.7h-2.7zM1003.65 1110.30h2.7v2.7h-2.7zM733.05 1140.55h2.7v2.7h-2.7zM744.85 1140.55h2.7v2.7h-2.7zM756.64 1140.55h2.7v2.7h-2.7zM768.44 1140.55h2.7v2.7h-2.7zM780.23 1140.55h2.7v2.7h-2.7zM792.03 1140.55h2.7v2.7h-2.7zM803.82 1140.55h2.7v2.7h-2.7zM815.62 1140.55h2.7v2.7h-2.7zM827.42 1140.55h2.7v2.7h-2.7zM839.21 1140.55h2.7v2.7h-2.7zM851.01 1140.55h2.7v2.7h-2.7zM862.80 1140.55h2.7v2.7h-2.7zM874.60 1140.55h2.7v2.7h-2.7zM886.39 1140.55h2.7v2.7h-2.7zM898.19 1140.55h2.7v2.7h-2.7zM909.98 1140.55h2.7v2.7h-2.7zM921.78 1140.55h2.7v2.7h-2.7zM933.58 1140.55h2.7v2.7h-2.7zM945.37 1140.55h2.7v2.7h-2.7zM957.17 1140.55h2.7v2.7h-2.7zM968.96 1140.55h2.7v2.7h-2.7zM980.76 1140.55h2.7v2.7h-2.7zM992.55 1140.55h2.7v2.7h-2.7zM1004.35 1140.55h2.7v2.7h-2.7zM995.35 1170.80h2.7v2.7h-2.7zM1007.15 1170.80h2.7v2.7h-2.7zM875.15 1201.05h2.7v2.7h-2.7zM887.05 1201.05h2.7v2.7h-2.7zM898.95 1201.05h2.7v2.7h-2.7zM910.85 1201.05h2.7v2.7h-2.7zM922.75 1201.05h2.7v2.7h-2.7zM934.65 1201.05h2.7v2.7h-2.7zM946.55 1201.05h2.7v2.7h-2.7zM958.45 1201.05h2.7v2.7h-2.7zM970.35 1201.05h2.7v2.7h-2.7zM982.25 1201.05h2.7v2.7h-2.7zM994.15 1201.05h2.7v2.7h-2.7zM1006.05 1201.05h2.7v2.7h-2.7zM933.05 1261.55h2.7v2.7h-2.7zM944.87 1261.55h2.7v2.7h-2.7zM956.68 1261.55h2.7v2.7h-2.7zM968.50 1261.55h2.7v2.7h-2.7zM980.32 1261.55h2.7v2.7h-2.7zM992.13 1261.55h2.7v2.7h-2.7zM1003.95 1261.55h2.7v2.7h-2.7zM777.25 1291.80h2.7v2.7h-2.7zM789.05 1291.80h2.7v2.7h-2.7zM800.85 1291.80h2.7v2.7h-2.7zM812.65 1291.80h2.7v2.7h-2.7zM824.45 1291.80h2.7v2.7h-2.7zM836.25 1291.80h2.7v2.7h-2.7zM848.05 1291.80h2.7v2.7h-2.7zM859.85 1291.80h2.7v2.7h-2.7zM871.65 1291.80h2.7v2.7h-2.7zM883.45 1291.80h2.7v2.7h-2.7zM895.25 1291.80h2.7v2.7h-2.7zM907.05 1291.80h2.7v2.7h-2.7zM918.85 1291.80h2.7v2.7h-2.7zM930.65 1291.80h2.7v2.7h-2.7zM942.45 1291.80h2.7v2.7h-2.7zM954.25 1291.80h2.7v2.7h-2.7zM966.05 1291.80h2.7v2.7h-2.7zM977.85 1291.80h2.7v2.7h-2.7zM989.65 1291.80h2.7v2.7h-2.7zM1001.45 1291.80h2.7v2.7h-2.7zM708.65 1322.05h2.7v2.7h-2.7zM720.44 1322.05h2.7v2.7h-2.7zM732.23 1322.05h2.7v2.7h-2.7zM744.03 1322.05h2.7v2.7h-2.7zM755.82 1322.05h2.7v2.7h-2.7zM767.61 1322.05h2.7v2.7h-2.7zM779.40 1322.05h2.7v2.7h-2.7zM791.19 1322.05h2.7v2.7h-2.7zM802.99 1322.05h2.7v2.7h-2.7zM814.78 1322.05h2.7v2.7h-2.7zM826.57 1322.05h2.7v2.7h-2.7zM838.36 1322.05h2.7v2.7h-2.7zM850.15 1322.05h2.7v2.7h-2.7zM861.95 1322.05h2.7v2.7h-2.7zM873.74 1322.05h2.7v2.7h-2.7zM885.53 1322.05h2.7v2.7h-2.7zM897.32 1322.05h2.7v2.7h-2.7zM909.11 1322.05h2.7v2.7h-2.7zM920.91 1322.05h2.7v2.7h-2.7zM932.70 1322.05h2.7v2.7h-2.7zM944.49 1322.05h2.7v2.7h-2.7zM956.28 1322.05h2.7v2.7h-2.7zM968.07 1322.05h2.7v2.7h-2.7zM979.87 1322.05h2.7v2.7h-2.7zM991.66 1322.05h2.7v2.7h-2.7zM1003.45 1322.05h2.7v2.7h-2.7zM708.65 1352.30h2.7v2.7h-2.7zM720.44 1352.30h2.7v2.7h-2.7zM732.23 1352.30h2.7v2.7h-2.7zM744.03 1352.30h2.7v2.7h-2.7zM755.82 1352.30h2.7v2.7h-2.7zM767.61 1352.30h2.7v2.7h-2.7zM779.40 1352.30h2.7v2.7h-2.7zM791.19 1352.30h2.7v2.7h-2.7zM802.99 1352.30h2.7v2.7h-2.7zM814.78 1352.30h2.7v2.7h-2.7zM826.57 1352.30h2.7v2.7h-2.7zM838.36 1352.30h2.7v2.7h-2.7zM850.15 1352.30h2.7v2.7h-2.7zM861.95 1352.30h2.7v2.7h-2.7zM873.74 1352.30h2.7v2.7h-2.7zM885.53 1352.30h2.7v2.7h-2.7zM897.32 1352.30h2.7v2.7h-2.7zM909.11 1352.30h2.7v2.7h-2.7zM920.91 1352.30h2.7v2.7h-2.7zM932.70 1352.30h2.7v2.7h-2.7zM944.49 1352.30h2.7v2.7h-2.7zM956.28 1352.30h2.7v2.7h-2.7zM968.07 1352.30h2.7v2.7h-2.7zM979.87 1352.30h2.7v2.7h-2.7zM991.66 1352.30h2.7v2.7h-2.7zM1003.45 1352.30h2.7v2.7h-2.7zM802.15 1382.55h2.7v2.7h-2.7zM813.92 1382.55h2.7v2.7h-2.7zM825.69 1382.55h2.7v2.7h-2.7zM837.46 1382.55h2.7v2.7h-2.7zM849.23 1382.55h2.7v2.7h-2.7zM861.00 1382.55h2.7v2.7h-2.7zM872.77 1382.55h2.7v2.7h-2.7zM884.54 1382.55h2.7v2.7h-2.7zM896.31 1382.55h2.7v2.7h-2.7zM908.09 1382.55h2.7v2.7h-2.7zM919.86 1382.55h2.7v2.7h-2.7zM931.63 1382.55h2.7v2.7h-2.7zM943.40 1382.55h2.7v2.7h-2.7zM955.17 1382.55h2.7v2.7h-2.7zM966.94 1382.55h2.7v2.7h-2.7zM978.71 1382.55h2.7v2.7h-2.7zM990.48 1382.55h2.7v2.7h-2.7zM1002.25 1382.55h2.7v2.7h-2.7zM773.85 1412.80h2.7v2.7h-2.7zM785.65 1412.80h2.7v2.7h-2.7zM797.45 1412.80h2.7v2.7h-2.7zM809.25 1412.80h2.7v2.7h-2.7zM821.05 1412.80h2.7v2.7h-2.7zM832.85 1412.80h2.7v2.7h-2.7zM844.65 1412.80h2.7v2.7h-2.7zM856.45 1412.80h2.7v2.7h-2.7zM868.25 1412.80h2.7v2.7h-2.7zM880.05 1412.80h2.7v2.7h-2.7zM891.85 1412.80h2.7v2.7h-2.7zM903.65 1412.80h2.7v2.7h-2.7zM915.45 1412.80h2.7v2.7h-2.7zM927.25 1412.80h2.7v2.7h-2.7zM939.05 1412.80h2.7v2.7h-2.7zM950.85 1412.80h2.7v2.7h-2.7zM962.65 1412.80h2.7v2.7h-2.7zM974.45 1412.80h2.7v2.7h-2.7zM986.25 1412.80h2.7v2.7h-2.7zM998.05 1412.80h2.7v2.7h-2.7zM875.15 1443.05h2.7v2.7h-2.7zM886.99 1443.05h2.7v2.7h-2.7zM898.82 1443.05h2.7v2.7h-2.7zM910.66 1443.05h2.7v2.7h-2.7zM922.50 1443.05h2.7v2.7h-2.7zM934.33 1443.05h2.7v2.7h-2.7zM946.17 1443.05h2.7v2.7h-2.7zM958.00 1443.05h2.7v2.7h-2.7zM969.84 1443.05h2.7v2.7h-2.7zM981.68 1443.05h2.7v2.7h-2.7zM993.51 1443.05h2.7v2.7h-2.7zM1005.35 1443.05h2.7v2.7h-2.7z"/></svg>
<div class="t" style="left:78.89px;top:107.90px;font-size:21.2px;letter-spacing:0.5px;transform:scaleX(0.9715)">Reisdoel ingeven</div>
<div class="t" style="left:507.57px;top:107.90px;font-size:21.2px;transform:scaleX(1.1217)">271</div>
<div class="t" style="left:78.77px;top:138.15px;font-size:21.2px;letter-spacing:0.5px;transform:scaleX(1.0014)">Routegeleiding annuleren</div>
<div class="t" style="left:507.57px;top:138.15px;font-size:21.2px;transform:scaleX(1.1217)">274</div>
<div class="t" style="left:78.75px;top:168.40px;font-size:21.2px;letter-spacing:0.5px;transform:scaleX(1.0062)">Kaart</div>
<div class="t" style="left:507.57px;top:168.40px;font-size:21.2px;transform:scaleX(1.1217)">274</div>
<div class="t" style="left:78.37px;top:198.65px;font-size:21.2px;letter-spacing:0.5px;transform:scaleX(1.0002)">Predictieve routegeleiding</div>
<div class="t" style="left:507.57px;top:198.65px;font-size:21.2px;transform:scaleX(1.1217)">276</div>
<div class="t" style="left:78.99px;top:228.90px;font-size:21.2px;letter-spacing:0.5px;transform:scaleX(0.9998)">Alternatieve routes</div>
<div class="t" style="left:507.57px;top:228.90px;font-size:21.2px;transform:scaleX(1.1217)">277</div>
<div class="t" style="left:78.81px;top:259.15px;font-size:21.2px;letter-spacing:0.5px;transform:scaleX(0.9904)">Extra functies</div>
<div class="t" style="left:507.57px;top:259.15px;font-size:21.2px;transform:scaleX(1.1217)">277</div>
<div class="t" style="left:78.50px;top:289.40px;font-size:21.2px;letter-spacing:0.5px;transform:scaleX(1.0313)">Satellietkaart</div>
<div class="t" style="left:507.57px;top:289.40px;font-size:21.2px;transform:scaleX(1.1217)">278</div>
<div class="t" style="left:78.84px;top:319.65px;font-size:21.2px;letter-spacing:0.5px;transform:scaleX(0.9844)">Elektrische actieradius</div>
<div class="t" style="left:507.57px;top:319.65px;font-size:21.2px;transform:scaleX(1.1217)">279</div>
<div class="t" style="left:78.72px;top:349.90px;font-size:21.2px;letter-spacing:0.5px;transform:scaleX(1.0126)">Kaartupdate</div>
<div class="t" style="left:507.57px;top:349.90px;font-size:21.2px;transform:scaleX(1.1217)">279</div>
<div class="t" style="left:78.96px;top:380.15px;font-size:21.2px;letter-spacing:0.5px;transform:scaleX(1.0157)">Verkeersinformatie</div>
<div class="t" style="left:507.57px;top:380.15px;font-size:21.2px;transform:scaleX(1.1217)">280</div>
<div class="t" style="left:78.83px;top:410.40px;font-size:21.2px;letter-spacing:0.5px;transform:scaleX(1.0054)">Gevareninformatie</div>
<div class="t" style="left:507.57px;top:410.40px;font-size:21.2px;transform:scaleX(1.1217)">281</div>
<div class="t" style="left:77.98px;top:440.65px;font-size:21.2px;letter-spacing:0.5px;transform:scaleX(1.0320)">Instellingen</div>
<div class="t" style="left:507.57px;top:440.65px;font-size:21.2px;transform:scaleX(1.1217)">282</div>
<div class="t bd" style="left:62.45px;top:501.45px;font-size:21.7px;letter-spacing:0.5px;font-weight:bold;color:#a8182f;transform:scaleX(1.1818)">Radio</div>
<div class="t" style="left:507.57px;top:501.15px;font-size:21.2px;color:#a8182f;transform:scaleX(1.1217)">284</div>
<div class="t" style="left:78.99px;top:531.40px;font-size:21.2px;letter-spacing:0.5px;transform:scaleX(0.9929)">Algemeen</div>
<div class="t" style="left:507.57px;top:531.40px;font-size:21.2px;transform:scaleX(1.1217)">284</div>
<div class="t" style="left:78.81px;top:561.65px;font-size:21.2px;letter-spacing:0.5px;transform:scaleX(0.9916)">Radiofuncties</div>
<div class="t" style="left:507.57px;top:561.65px;font-size:21.2px;transform:scaleX(1.1217)">285</div>
<div class="t" style="left:78.04px;top:591.90px;font-size:21.2px;letter-spacing:0.5px;transform:scaleX(0.9918)">Online radio</div>
<div class="t" style="left:507.57px;top:591.90px;font-size:21.2px;transform:scaleX(1.1217)">287</div>
<div class="t" style="left:78.00px;top:622.15px;font-size:21.2px;letter-spacing:0.5px;transform:scaleX(1.0030)">Opties en instellingen</div>
<div class="t" style="left:507.57px;top:622.15px;font-size:21.2px;transform:scaleX(1.1217)">289</div>
<div class="t" style="left:79.87px;top:652.40px;font-size:21.2px;letter-spacing:0.5px;transform:scaleX(1.0018)">Zelf problemen verhelpen</div>
<div class="t" style="left:507.57px;top:652.40px;font-size:21.2px;transform:scaleX(1.1217)">290</div>
<div class="t bd" style="left:62.33px;top:713.20px;font-size:21.7px;letter-spacing:0.5px;font-weight:bold;color:#a8182f;transform:scaleX(1.2202)">Media</div>
<div class="t" style="left:507.57px;top:712.90px;font-size:21.2px;color:#a8182f;transform:scaleX(1.1217)">291</div>
<div class="t" style="left:78.99px;top:743.15px;font-size:21.2px;letter-spacing:0.5px;transform:scaleX(0.9929)">Algemeen</div>
<div class="t" style="left:507.57px;top:743.15px;font-size:21.2px;transform:scaleX(1.1217)">291</div>
<div class="t" style="left:78.87px;top:773.40px;font-size:21.2px;letter-spacing:0.5px;transform:scaleX(0.9722)">Dvd-speler</div>
<div class="t" style="left:507.57px;top:773.40px;font-size:21.2px;transform:scaleX(1.1217)">291</div>
<div class="t" style="left:78.72px;top:803.65px;font-size:21.2px;letter-spacing:0.5px;transform:scaleX(1.0112)">Bluetooth-audiospeler</div>
<div class="t" style="left:507.57px;top:803.65px;font-size:21.2px;transform:scaleX(1.1217)">292</div>
<div class="t" style="left:78.04px;top:833.90px;font-size:21.2px;letter-spacing:0.5px;transform:scaleX(0.9937)">Onlinemedia</div>
<div class="t" style="left:507.57px;top:833.90px;font-size:21.2px;transform:scaleX(1.1217)">292</div>
<div class="t" style="left:78.64px;top:864.15px;font-size:21.2px;letter-spacing:0.5px;transform:scaleX(1.0339)">Multimedia-aansluitingen</div>
<div class="t" style="left:507.57px;top:864.15px;font-size:21.2px;transform:scaleX(1.1217)">293</div>
<div class="t" style="left:78.81px;top:894.40px;font-size:21.2px;letter-spacing:0.5px;transform:scaleX(0.9905)">Media afspelen</div>
<div class="t" style="left:507.57px;top:894.40px;font-size:21.2px;transform:scaleX(1.1217)">294</div>
<div class="t" style="left:78.00px;top:924.65px;font-size:21.2px;letter-spacing:0.5px;transform:scaleX(1.0030)">Opties en instellingen</div>
<div class="t" style="left:507.57px;top:924.65px;font-size:21.2px;transform:scaleX(1.1217)">298</div>
<div class="t" style="left:78.06px;top:954.90px;font-size:21.2px;letter-spacing:0.5px;transform:scaleX(0.9812)">Ondersteunde media en</div>
<div class="t" style="left:78.36px;top:985.15px;font-size:21.2px;letter-spacing:0.5px;transform:scaleX(1.0224)">bestandsformaten</div>
<div class="t" style="left:507.57px;top:985.15px;font-size:21.2px;transform:scaleX(1.1217)">299</div>
<div class="t" style="left:79.87px;top:1015.40px;font-size:21.2px;letter-spacing:0.5px;transform:scaleX(1.0018)">Zelf problemen verhelpen</div>
<div class="t" style="left:507.90px;top:1015.40px;font-size:21.2px;transform:scaleX(1.1217)">301</div>
<div class="t bd" style="left:63.27px;top:1076.20px;font-size:21.7px;letter-spacing:0.5px;font-weight:bold;color:#a8182f;transform:scaleX(1.1514)">Tv</div>
<div class="t" style="left:507.90px;top:1075.90px;font-size:21.2px;color:#a8182f;transform:scaleX(1.1217)">302</div>
<div class="t" style="left:78.99px;top:1106.15px;font-size:21.2px;letter-spacing:0.5px;transform:scaleX(0.9929)">Algemeen</div>
<div class="t" style="left:507.90px;top:1106.15px;font-size:21.2px;transform:scaleX(1.1217)">302</div>
<div class="t" style="left:79.06px;top:1136.40px;font-size:21.2px;letter-spacing:0.5px;transform:scaleX(0.9893)">Tv-functies</div>
<div class="t" style="left:507.90px;top:1136.40px;font-size:21.2px;transform:scaleX(1.1217)">303</div>
<div class="t" style="left:78.01px;top:1166.65px;font-size:21.2px;letter-spacing:0.5px;transform:scaleX(1.0023)">Overige instellingen</div>
<div class="t" style="left:507.90px;top:1166.65px;font-size:21.2px;transform:scaleX(1.1217)">305</div>
<div class="t" style="left:78.55px;top:1196.90px;font-size:21.2px;letter-spacing:0.5px;transform:scaleX(1.0000)">Storingen in de ontvangst</div>
<div class="t" style="left:507.90px;top:1196.90px;font-size:21.2px;transform:scaleX(1.1217)">306</div>
<div class="t" style="left:78.92px;top:1227.15px;font-size:21.2px;letter-spacing:0.5px;transform:scaleX(0.9661)">Gecodeerde tv-zenders ontvangen</div>
<div class="t" style="left:507.90px;top:1227.15px;font-size:21.2px;transform:scaleX(1.1217)">306</div>
<div class="t bd" style="left:62.37px;top:1287.95px;font-size:21.7px;letter-spacing:0.5px;font-weight:bold;color:#a8182f;transform:scaleX(1.2080)">Beleveniswereld</div>
<div class="t" style="left:507.90px;top:1287.65px;font-size:21.2px;color:#a8182f;transform:scaleX(1.1217)">309</div>
<div class="t" style="left:79.05px;top:1317.90px;font-size:21.2px;letter-spacing:0.5px;transform:scaleX(0.9989)">Themawereld</div>
<div class="t" style="left:507.90px;top:1317.90px;font-size:21.2px;transform:scaleX(1.1217)">309</div>
<div class="t" style="left:78.68px;top:1348.15px;font-size:21.2px;letter-spacing:0.5px;transform:scaleX(1.0241)">Holoride-interface</div>
<div class="t" style="left:507.90px;top:1348.15px;font-size:21.2px;transform:scaleX(1.1217)">309</div>
<div class="t bd" style="left:586.11px;top:108.20px;font-size:21.7px;letter-spacing:0.5px;font-weight:bold;color:#a8182f;transform:scaleX(1.2370)">Smartphone-interface</div>
<div class="t" style="left:1031.20px;top:107.90px;font-size:21.2px;color:#a8182f;transform:scaleX(1.1217)">311</div>
<div class="t" style="left:601.45px;top:138.15px;font-size:21.2px;letter-spacing:0.5px;transform:scaleX(1.0117)">Ingebruikname</div>
<div class="t" style="left:1031.20px;top:138.15px;font-size:21.2px;transform:scaleX(1.1217)">311</div>
<div class="t" style="left:603.26px;top:168.40px;font-size:21.2px;letter-spacing:0.5px;transform:scaleX(0.9976)">Zelf problemen verhelpen</div>
<div class="t" style="left:1031.20px;top:168.40px;font-size:21.2px;transform:scaleX(1.1217)">312</div>
<div class="t bd" style="left:586.08px;top:229.20px;font-size:21.7px;letter-spacing:0.5px;font-weight:bold;color:#a8182f;transform:scaleX(1.2118)">Overige instellingen</div>
<div class="t" style="left:1031.20px;top:228.90px;font-size:21.2px;color:#a8182f;transform:scaleX(1.1217)">314</div>
<div class="t" style="left:601.91px;top:259.15px;font-size:21.2px;letter-spacing:0.5px;transform:scaleX(1.0252)">Systeeminstellingen</div>
<div class="t" style="left:1031.20px;top:259.15px;font-size:21.2px;transform:scaleX(1.1217)">314</div>
<div class="t" style="left:601.93px;top:289.40px;font-size:21.2px;letter-spacing:0.5px;transform:scaleX(1.0106)">Software bijwerken</div>
<div class="t" style="left:1031.20px;top:289.40px;font-size:21.2px;transform:scaleX(1.1217)">315</div>
<div class="t" style="left:602.36px;top:319.65px;font-size:21.2px;letter-spacing:0.5px;transform:scaleX(0.9919)">Verbonden apparaten</div>
<div class="t" style="left:1031.20px;top:319.65px;font-size:21.2px;transform:scaleX(1.1217)">315</div>
<div class="t" style="left:603.15px;top:349.90px;font-size:21.2px;letter-spacing:0.5px;transform:scaleX(0.9990)">Juridische informatie</div>
<div class="t" style="left:1031.20px;top:349.90px;font-size:21.2px;transform:scaleX(1.1217)">316</div>
<div class="t bd" style="left:586.16px;top:410.70px;font-size:21.7px;letter-spacing:0.5px;font-weight:bold;transform:scaleX(1.2127)">Verzorging en onderhoud</div>
<div class="t" style="left:1031.20px;top:410.40px;font-size:21.2px;transform:scaleX(1.1217)">318</div>
<div class="t bd" style="left:586.28px;top:440.95px;font-size:21.7px;letter-spacing:0.5px;font-weight:bold;color:#a8182f;transform:scaleX(1.2096)">Controleren en bijvullen</div>
<div class="t" style="left:1031.20px;top:440.65px;font-size:21.2px;color:#a8182f;transform:scaleX(1.1217)">318</div>
<div class="t" style="left:602.12px;top:470.90px;font-size:21.2px;letter-spacing:0.5px;transform:scaleX(1.0108)">Brandstof</div>
<div class="t" style="left:1031.20px;top:470.90px;font-size:21.2px;transform:scaleX(1.1217)">318</div>
<div class="t" style="left:602.47px;top:501.15px;font-size:21.2px;letter-spacing:0.5px;transform:scaleX(0.9789)">Tanken</div>
<div class="t" style="left:1031.20px;top:501.15px;font-size:21.2px;transform:scaleX(1.1217)">319</div>
<div class="t" style="left:602.00px;top:531.40px;font-size:21.2px;letter-spacing:0.5px;transform:scaleX(0.9729)">Selective Catalytic Reduction (AdBlue/</div>
<div class="t" style="left:602.57px;top:561.65px;font-size:21.2px;letter-spacing:0.5px;transform:scaleX(0.8856)">DEF)</div>
<div class="t" style="left:1031.20px;top:561.65px;font-size:21.2px;transform:scaleX(1.1217)">322</div>
<div class="t" style="left:602.38px;top:591.90px;font-size:21.2px;letter-spacing:0.5px;transform:scaleX(1.0048)">Uitlaatgasreinigingssysteem</div>
<div class="t" style="left:1031.20px;top:591.90px;font-size:21.2px;transform:scaleX(1.1217)">326</div>
<div class="t" style="left:601.87px;top:622.15px;font-size:21.2px;letter-spacing:0.5px;transform:scaleX(1.0682)">Motorruimte</div>
<div class="t" style="left:1031.20px;top:622.15px;font-size:21.2px;transform:scaleX(1.1217)">328</div>
<div class="t" style="left:602.02px;top:652.40px;font-size:21.2px;letter-spacing:0.5px;transform:scaleX(1.0394)">Motorolie</div>
<div class="t" style="left:1031.20px;top:652.40px;font-size:21.2px;transform:scaleX(1.1217)">333</div>
<div class="t" style="left:602.26px;top:682.65px;font-size:21.2px;letter-spacing:0.5px;transform:scaleX(0.9782)">Koelsysteem</div>
<div class="t" style="left:1031.20px;top:682.65px;font-size:21.2px;transform:scaleX(1.1217)">335</div>
<div class="t" style="left:602.15px;top:712.90px;font-size:21.2px;letter-spacing:0.5px;transform:scaleX(1.0049)">Remvloeistof</div>
<div class="t" style="left:1031.20px;top:712.90px;font-size:21.2px;transform:scaleX(1.1217)">338</div>
<div class="t" style="left:602.15px;top:743.15px;font-size:21.2px;letter-spacing:0.5px;transform:scaleX(1.0083)">Elektrische installatie</div>
<div class="t" style="left:1031.20px;top:743.15px;font-size:21.2px;transform:scaleX(1.1217)">339</div>
<div class="t" style="left:602.40px;top:773.40px;font-size:21.2px;letter-spacing:0.5px;transform:scaleX(0.9259)">Accu</div>
<div class="t" style="left:1031.20px;top:773.40px;font-size:21.2px;transform:scaleX(1.1217)">339</div>
<div class="t" style="left:602.12px;top:803.65px;font-size:21.2px;letter-spacing:0.5px;transform:scaleX(1.0143)">Ruitensproeierinstallatie</div>
<div class="t" style="left:1031.20px;top:803.65px;font-size:21.2px;transform:scaleX(1.1217)">343</div>
<div class="t" style="left:601.95px;top:833.90px;font-size:21.2px;letter-spacing:0.5px;transform:scaleX(0.9979)">Service-intervalindicatie</div>
<div class="t" style="left:1031.20px;top:833.90px;font-size:21.2px;transform:scaleX(1.1217)">343</div>
<div class="t bd" style="left:586.36px;top:894.70px;font-size:21.7px;letter-spacing:0.5px;font-weight:bold;color:#a8182f;transform:scaleX(1.2693)">Wielen</div>
<div class="t" style="left:1031.20px;top:894.40px;font-size:21.2px;color:#a8182f;transform:scaleX(1.1217)">345</div>
<div class="t" style="left:602.31px;top:924.65px;font-size:21.2px;letter-spacing:0.5px;transform:scaleX(0.9648)">Banden en velgen</div>
<div class="t" style="left:1031.20px;top:924.65px;font-size:21.2px;transform:scaleX(1.1217)">345</div>
<div class="t" style="left:602.17px;top:954.90px;font-size:21.2px;letter-spacing:0.5px;transform:scaleX(0.9983)">Bandencontrole</div>
<div class="t" style="left:1031.20px;top:954.90px;font-size:21.2px;transform:scaleX(1.1217)">351</div>
<div class="t" style="left:602.19px;top:985.15px;font-size:21.2px;letter-spacing:0.5px;transform:scaleX(0.9949)">Bandenspanningscontrolesysteem</div>
<div class="t" style="left:1031.20px;top:985.15px;font-size:21.2px;transform:scaleX(1.1217)">352</div>
<div class="t" style="left:602.23px;top:1015.40px;font-size:21.2px;letter-spacing:0.5px;transform:scaleX(0.9887)">Banden met noodloopeigenschappen</div>
<div class="t" style="left:1031.20px;top:1015.40px;font-size:21.2px;transform:scaleX(1.1217)">354</div>
<div class="t bd" style="left:585.99px;top:1076.20px;font-size:21.7px;letter-spacing:0.5px;font-weight:bold;color:#a8182f;transform:scaleX(1.2091)">Verzorgen en schoonmaken</div>
<div class="t" style="left:1031.20px;top:1075.90px;font-size:21.2px;color:#a8182f;transform:scaleX(1.1217)">356</div>
<div class="t" style="left:602.39px;top:1106.15px;font-size:21.2px;letter-spacing:0.5px;transform:scaleX(0.9976)">Algemeen</div>
<div class="t" style="left:1031.20px;top:1106.15px;font-size:21.2px;transform:scaleX(1.1217)">356</div>
<div class="t" style="left:602.39px;top:1136.40px;font-size:21.2px;letter-spacing:0.5px;transform:scaleX(0.9748)">Auto wassen</div>
<div class="t" style="left:1031.20px;top:1136.40px;font-size:21.2px;transform:scaleX(1.1217)">356</div>
<div class="t" style="left:602.24px;top:1166.65px;font-size:21.2px;letter-spacing:0.5px;transform:scaleX(0.9846)">Reinigings- en verzorgingsaanwijzingen</div>
<div class="t" style="left:1031.20px;top:1166.65px;font-size:21.2px;transform:scaleX(1.1217)">357</div>
<div class="t" style="left:602.39px;top:1196.90px;font-size:21.2px;letter-spacing:0.5px;transform:scaleX(1.0101)">Auto buiten gebruik stellen</div>
<div class="t" style="left:1031.20px;top:1196.90px;font-size:21.2px;transform:scaleX(1.1217)">362</div>
<div class="t bd" style="left:587.08px;top:1257.70px;font-size:21.7px;letter-spacing:0.5px;font-weight:bold;transform:scaleX(1.2307)">Zelf problemen verhelpen</div>
<div class="t" style="left:1031.20px;top:1257.40px;font-size:21.2px;transform:scaleX(1.1217)">363</div>
<div class="t bd" style="left:585.73px;top:1287.95px;font-size:21.7px;letter-spacing:0.5px;font-weight:bold;color:#a8182f;transform:scaleX(1.2227)">Reparatiehulp</div>
<div class="t" style="left:1031.20px;top:1287.65px;font-size:21.2px;color:#a8182f;transform:scaleX(1.1217)">363</div>
<div class="t" style="left:602.39px;top:1317.90px;font-size:21.2px;letter-spacing:0.5px;transform:scaleX(0.9976)">Algemeen</div>
<div class="t" style="left:1031.20px;top:1317.90px;font-size:21.2px;transform:scaleX(1.1217)">363</div>
<div class="t" style="left:602.19px;top:1348.15px;font-size:21.2px;letter-spacing:0.5px;transform:scaleX(1.0586)">Uitrusting</div>
<div class="t" style="left:1031.20px;top:1348.15px;font-size:21.2px;transform:scaleX(1.1217)">363</div>
<div class="t" style="left:602.21px;top:1378.40px;font-size:21.2px;letter-spacing:0.5px;transform:scaleX(0.9897)">Bandenreparatieset</div>
<div class="t" style="left:1031.20px;top:1378.40px;font-size:21.2px;transform:scaleX(1.1217)">364</div>
<div class="t" style="left:602.39px;top:1408.65px;font-size:21.2px;letter-spacing:0.5px;transform:scaleX(0.9917)">Wiel verwisselen</div>
<div class="t" style="left:1031.20px;top:1408.65px;font-size:21.2px;transform:scaleX(1.1217)">366</div>
<div class="t" style="left:602.26px;top:1438.90px;font-size:21.2px;letter-spacing:0.5px;transform:scaleX(0.9820)">Reservewiel met vouwband</div>
<div class="t" style="left:1031.20px;top:1438.90px;font-size:21.2px;transform:scaleX(1.1217)">370</div>
<div class="t bd" style="left:62.80px;top:42.20px;font-size:21.5px;letter-spacing:0.5px;font-weight:bold;transform:scaleX(1.2052)">Inhoudsopgave</div>
<div class="t bd" style="left:63.59px;top:1616.00px;font-size:21.5px;font-weight:bold;transform:scaleX(1.3120)">4</div>
</div></body></html>
